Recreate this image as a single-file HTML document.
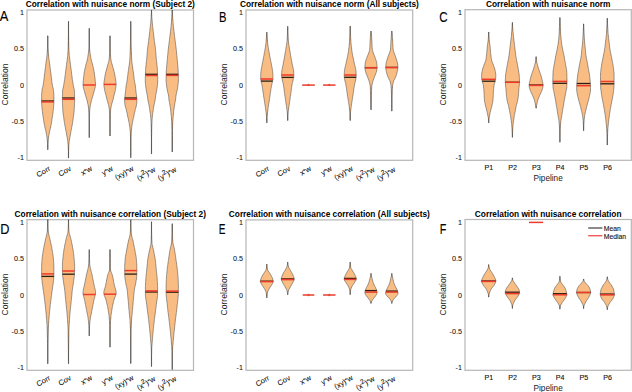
<!DOCTYPE html>
<html><head><meta charset="utf-8"><style>
html,body{margin:0;padding:0;background:#fff;width:632px;height:392px;overflow:hidden}
svg{display:block}
</style></head><body>
<svg width="632" height="392" viewBox="0 0 632 392">
<rect width="632" height="392" fill="#fff"/>
<text x="110.25" y="7.3" font-family='"Liberation Sans", sans-serif' font-weight="bold" font-size="8.3" text-anchor="middle" fill="#000">Correlation with nuisance norm (Subject 2)</text>
<text transform="translate(-0.36,20.7) scale(0.92,1)" font-family='"Liberation Sans", sans-serif' font-size="14" fill="#000" stroke="#000" stroke-width="0.12">A</text>
<text transform="translate(7.90,84.50) rotate(-90)" font-family='"Liberation Sans", sans-serif' font-size="8.6" text-anchor="middle" fill="#1a1a1a">Correlation</text>
<text x="24.00" y="15.10" font-family='"Liberation Sans", sans-serif' font-size="7.2" text-anchor="end" fill="#111" stroke="#111" stroke-width="0.06">1</text>
<text x="24.00" y="51.35" font-family='"Liberation Sans", sans-serif' font-size="7.2" text-anchor="end" fill="#111" stroke="#111" stroke-width="0.06">0.5</text>
<text x="24.00" y="87.60" font-family='"Liberation Sans", sans-serif' font-size="7.2" text-anchor="end" fill="#111" stroke="#111" stroke-width="0.06">0</text>
<text x="24.00" y="123.85" font-family='"Liberation Sans", sans-serif' font-size="7.2" text-anchor="end" fill="#111" stroke="#111" stroke-width="0.06">-0.5</text>
<text x="24.00" y="160.10" font-family='"Liberation Sans", sans-serif' font-size="7.2" text-anchor="end" fill="#111" stroke="#111" stroke-width="0.06">-1</text>
<rect x="27" y="10" width="166.5" height="150.3" fill="none" stroke="#b6b6b6" stroke-width="1.2"/>
<line x1="47.75" y1="35.8" x2="47.75" y2="149.7" stroke="#7a7a7a" stroke-width="0.8"/>
<path d="M47.9 35.8 47.9 37.1 47.9 38.3 47.9 39.6 47.9 40.9 47.9 42.1 47.9 43.4 47.9 44.7 48.0 45.9 48.0 47.2 48.1 48.5 48.1 49.7 48.2 51.0 48.3 52.3 48.4 53.5 48.5 54.8 48.6 56.0 48.8 57.3 48.9 58.6 49.1 59.8 49.3 61.1 49.5 62.4 49.6 63.6 49.8 64.9 50.0 66.2 50.1 67.4 50.3 68.7 50.4 70.0 50.6 71.2 50.7 72.5 50.9 73.8 51.1 75.0 51.2 76.3 51.4 77.6 51.5 78.8 51.7 80.1 51.8 81.4 52.0 82.6 52.2 83.9 52.4 85.2 52.6 86.4 53.0 87.7 53.3 89.0 53.5 90.2 53.6 91.5 53.7 92.8 53.8 94.0 53.9 95.3 53.9 96.5 53.9 97.8 53.9 99.1 53.9 100.3 53.9 101.6 53.9 102.9 53.8 104.1 53.7 105.4 53.6 106.7 53.5 107.9 53.4 109.2 53.2 110.5 53.1 111.7 52.9 113.0 52.8 114.3 52.6 115.5 52.4 116.8 52.2 118.1 52.0 119.3 51.8 120.6 51.6 121.9 51.4 123.1 51.2 124.4 50.9 125.7 50.7 126.9 50.4 128.2 50.1 129.5 49.8 130.7 49.5 132.0 49.3 133.2 49.0 134.5 48.8 135.8 48.6 137.0 48.4 138.3 48.3 139.6 48.2 140.8 48.1 142.1 48.0 143.4 47.9 144.6 47.9 145.9 47.9 147.2 47.9 148.4 47.9 149.7 47.6 149.7 47.6 148.4 47.6 147.2 47.6 145.9 47.6 144.6 47.5 143.4 47.4 142.1 47.3 140.8 47.2 139.6 47.1 138.3 46.9 137.0 46.7 135.8 46.5 134.5 46.2 133.2 46.0 132.0 45.7 130.7 45.4 129.5 45.1 128.2 44.8 126.9 44.6 125.7 44.3 124.4 44.1 123.1 43.9 121.9 43.7 120.6 43.5 119.3 43.3 118.1 43.1 116.8 42.9 115.5 42.7 114.3 42.6 113.0 42.4 111.7 42.3 110.5 42.1 109.2 42.0 107.9 41.9 106.7 41.8 105.4 41.7 104.1 41.6 102.9 41.6 101.6 41.6 100.3 41.6 99.1 41.6 97.8 41.6 96.5 41.6 95.3 41.7 94.0 41.8 92.8 41.9 91.5 42.0 90.2 42.2 89.0 42.5 87.7 42.9 86.4 43.1 85.2 43.3 83.9 43.5 82.6 43.7 81.4 43.8 80.1 44.0 78.8 44.1 77.6 44.3 76.3 44.4 75.0 44.6 73.8 44.8 72.5 44.9 71.2 45.1 70.0 45.2 68.7 45.4 67.4 45.5 66.2 45.7 64.9 45.9 63.6 46.0 62.4 46.2 61.1 46.4 59.8 46.6 58.6 46.7 57.3 46.9 56.0 47.0 54.8 47.1 53.5 47.2 52.3 47.3 51.0 47.4 49.7 47.4 48.5 47.5 47.2 47.5 45.9 47.6 44.7 47.6 43.4 47.6 42.1 47.6 40.9 47.6 39.6 47.6 38.3 47.6 37.1 47.6 35.8Z" fill="#f9bd83" stroke="#3c3c3c" stroke-width="0.5"/>
<line x1="68.5" y1="21.3" x2="68.5" y2="158" stroke="#7a7a7a" stroke-width="0.8"/>
<path d="M68.6 21.3 68.6 22.6 68.6 23.8 68.6 25.1 68.6 26.4 68.6 27.6 68.6 28.9 68.6 30.2 68.6 31.4 68.6 32.7 68.6 34.0 68.6 35.2 68.6 36.5 68.7 37.8 68.7 39.0 68.7 40.3 68.7 41.6 68.8 42.8 68.8 44.1 68.8 45.3 68.8 46.6 68.9 47.9 68.9 49.1 69.0 50.4 69.1 51.7 69.2 52.9 69.2 54.2 69.3 55.5 69.4 56.7 69.6 58.0 69.8 59.3 69.9 60.5 70.1 61.8 70.3 63.1 70.5 64.3 70.6 65.6 70.8 66.9 70.9 68.1 71.1 69.4 71.3 70.7 71.4 71.9 71.6 73.2 71.7 74.5 71.9 75.7 72.1 77.0 72.2 78.3 72.4 79.5 72.6 80.8 72.8 82.1 73.0 83.3 73.2 84.6 73.4 85.9 73.7 87.1 74.0 88.4 74.3 89.6 74.4 90.9 74.4 92.2 74.5 93.4 74.5 94.7 74.6 96.0 74.6 97.2 74.6 98.5 74.6 99.8 74.6 101.0 74.5 102.3 74.5 103.6 74.5 104.8 74.4 106.1 74.3 107.4 74.3 108.6 74.2 109.9 74.1 111.2 74.0 112.4 73.9 113.7 73.7 115.0 73.5 116.2 73.3 117.5 73.1 118.8 73.0 120.0 72.8 121.3 72.6 122.6 72.4 123.8 72.2 125.1 71.9 126.4 71.7 127.6 71.4 128.9 71.2 130.2 71.0 131.4 70.7 132.7 70.5 134.0 70.3 135.2 70.1 136.5 69.8 137.7 69.6 139.0 69.4 140.3 69.2 141.5 69.1 142.8 69.0 144.1 68.9 145.3 68.8 146.6 68.8 147.9 68.7 149.1 68.7 150.4 68.6 151.7 68.6 152.9 68.6 154.2 68.6 155.5 68.6 156.7 68.6 158.0 68.4 158.0 68.4 156.7 68.4 155.5 68.4 154.2 68.4 152.9 68.4 151.7 68.3 150.4 68.3 149.1 68.2 147.9 68.2 146.6 68.1 145.3 68.0 144.1 67.9 142.8 67.8 141.5 67.6 140.3 67.4 139.0 67.2 137.7 66.9 136.5 66.7 135.2 66.5 134.0 66.3 132.7 66.0 131.4 65.8 130.2 65.6 128.9 65.3 127.6 65.1 126.4 64.8 125.1 64.6 123.8 64.4 122.6 64.2 121.3 64.0 120.0 63.9 118.8 63.7 117.5 63.5 116.2 63.3 115.0 63.1 113.7 63.0 112.4 62.9 111.2 62.8 109.9 62.7 108.6 62.7 107.4 62.6 106.1 62.5 104.8 62.5 103.6 62.5 102.3 62.4 101.0 62.4 99.8 62.4 98.5 62.4 97.2 62.4 96.0 62.5 94.7 62.5 93.4 62.6 92.2 62.6 90.9 62.7 89.6 63.0 88.4 63.3 87.1 63.6 85.9 63.8 84.6 64.0 83.3 64.2 82.1 64.4 80.8 64.6 79.5 64.8 78.3 64.9 77.0 65.1 75.7 65.3 74.5 65.4 73.2 65.6 71.9 65.7 70.7 65.9 69.4 66.1 68.1 66.2 66.9 66.4 65.6 66.5 64.3 66.7 63.1 66.9 61.8 67.1 60.5 67.2 59.3 67.4 58.0 67.6 56.7 67.7 55.5 67.8 54.2 67.8 52.9 67.9 51.7 68.0 50.4 68.1 49.1 68.1 47.9 68.2 46.6 68.2 45.3 68.2 44.1 68.2 42.8 68.3 41.6 68.3 40.3 68.3 39.0 68.3 37.8 68.4 36.5 68.4 35.2 68.4 34.0 68.4 32.7 68.4 31.4 68.4 30.2 68.4 28.9 68.4 27.6 68.4 26.4 68.4 25.1 68.4 23.8 68.4 22.6 68.4 21.3Z" fill="#f9bd83" stroke="#3c3c3c" stroke-width="0.5"/>
<line x1="89.25" y1="28.3" x2="89.25" y2="137.6" stroke="#7a7a7a" stroke-width="0.8"/>
<path d="M89.3 28.3 89.3 29.6 89.3 30.8 89.3 32.1 89.3 33.4 89.3 34.7 89.3 35.9 89.3 37.2 89.3 38.5 89.4 39.7 89.4 41.0 89.4 42.3 89.4 43.6 89.5 44.8 89.5 46.1 89.5 47.4 89.6 48.6 89.7 49.9 89.8 51.2 90.0 52.4 90.2 53.7 90.4 55.0 90.6 56.3 90.8 57.5 91.0 58.8 91.3 60.1 91.6 61.3 92.0 62.6 92.4 63.9 92.7 65.2 93.0 66.4 93.3 67.7 93.6 69.0 93.8 70.2 94.1 71.5 94.3 72.8 94.5 74.1 94.6 75.3 94.8 76.6 95.0 77.9 95.1 79.1 95.2 80.4 95.4 81.7 95.4 83.0 95.5 84.2 95.5 85.5 95.3 86.8 95.0 88.0 94.7 89.3 94.3 90.6 94.0 91.8 93.6 93.1 93.3 94.4 92.9 95.7 92.5 96.9 92.1 98.2 91.7 99.5 91.4 100.7 91.1 102.0 90.8 103.3 90.5 104.6 90.3 105.8 90.1 107.1 89.9 108.4 89.8 109.6 89.7 110.9 89.6 112.2 89.6 113.5 89.5 114.7 89.5 116.0 89.5 117.3 89.4 118.5 89.4 119.8 89.4 121.1 89.4 122.3 89.3 123.6 89.3 124.9 89.3 126.2 89.3 127.4 89.3 128.7 89.3 130.0 89.3 131.2 89.3 132.5 89.3 133.8 89.3 135.1 89.3 136.3 89.3 137.6 89.2 137.6 89.2 136.3 89.2 135.1 89.2 133.8 89.2 132.5 89.2 131.2 89.2 130.0 89.2 128.7 89.2 127.4 89.2 126.2 89.2 124.9 89.2 123.6 89.1 122.3 89.1 121.1 89.1 119.8 89.1 118.5 89.0 117.3 89.0 116.0 89.0 114.7 88.9 113.5 88.9 112.2 88.8 110.9 88.7 109.6 88.6 108.4 88.4 107.1 88.2 105.8 88.0 104.6 87.7 103.3 87.4 102.0 87.1 100.7 86.8 99.5 86.4 98.2 86.0 96.9 85.6 95.7 85.2 94.4 84.9 93.1 84.5 91.8 84.2 90.6 83.8 89.3 83.5 88.0 83.2 86.8 83.0 85.5 83.0 84.2 83.1 83.0 83.1 81.7 83.3 80.4 83.4 79.1 83.5 77.9 83.7 76.6 83.9 75.3 84.0 74.1 84.2 72.8 84.4 71.5 84.7 70.2 84.9 69.0 85.2 67.7 85.5 66.4 85.8 65.2 86.1 63.9 86.5 62.6 86.9 61.3 87.2 60.1 87.5 58.8 87.7 57.5 87.9 56.3 88.1 55.0 88.3 53.7 88.5 52.4 88.7 51.2 88.8 49.9 88.9 48.6 89.0 47.4 89.0 46.1 89.0 44.8 89.1 43.6 89.1 42.3 89.1 41.0 89.1 39.7 89.2 38.5 89.2 37.2 89.2 35.9 89.2 34.7 89.2 33.4 89.2 32.1 89.2 30.8 89.2 29.6 89.2 28.3Z" fill="#f9bd83" stroke="#3c3c3c" stroke-width="0.5"/>
<line x1="110" y1="35.8" x2="110" y2="136" stroke="#7a7a7a" stroke-width="0.8"/>
<path d="M110.1 35.8 110.1 37.1 110.1 38.3 110.1 39.6 110.1 40.9 110.1 42.1 110.1 43.4 110.1 44.7 110.1 45.9 110.2 47.2 110.2 48.5 110.2 49.8 110.3 51.0 110.3 52.3 110.4 53.6 110.5 54.8 110.6 56.1 110.7 57.4 110.8 58.6 111.0 59.9 111.2 61.2 111.5 62.4 111.9 63.7 112.3 65.0 112.6 66.2 113.0 67.5 113.3 68.8 113.7 70.0 114.0 71.3 114.3 72.6 114.6 73.9 114.9 75.1 115.1 76.4 115.3 77.7 115.5 78.9 115.7 80.2 115.9 81.5 116.0 82.7 116.1 84.0 116.1 85.3 115.9 86.5 115.8 87.8 115.5 89.1 115.3 90.3 115.1 91.6 114.7 92.9 114.4 94.1 114.0 95.4 113.7 96.7 113.4 97.9 113.1 99.2 112.8 100.5 112.4 101.8 112.0 103.0 111.7 104.3 111.4 105.6 111.1 106.8 110.9 108.1 110.7 109.4 110.6 110.6 110.5 111.9 110.4 113.2 110.3 114.4 110.3 115.7 110.2 117.0 110.2 118.2 110.2 119.5 110.2 120.8 110.1 122.0 110.1 123.3 110.1 124.6 110.1 125.9 110.1 127.1 110.1 128.4 110.1 129.7 110.1 130.9 110.1 132.2 110.1 133.5 110.1 134.7 110.1 136.0 109.9 136.0 109.9 134.7 109.9 133.5 109.9 132.2 109.9 130.9 109.9 129.7 109.9 128.4 109.9 127.1 109.9 125.9 109.9 124.6 109.9 123.3 109.9 122.0 109.8 120.8 109.8 119.5 109.8 118.2 109.8 117.0 109.7 115.7 109.7 114.4 109.6 113.2 109.5 111.9 109.4 110.6 109.3 109.4 109.1 108.1 108.9 106.8 108.6 105.6 108.3 104.3 108.0 103.0 107.6 101.8 107.2 100.5 106.9 99.2 106.6 97.9 106.3 96.7 106.0 95.4 105.6 94.1 105.3 92.9 104.9 91.6 104.7 90.3 104.5 89.1 104.2 87.8 104.1 86.5 103.9 85.3 103.9 84.0 104.0 82.7 104.1 81.5 104.3 80.2 104.5 78.9 104.7 77.7 104.9 76.4 105.1 75.1 105.4 73.9 105.7 72.6 106.0 71.3 106.3 70.0 106.7 68.8 107.0 67.5 107.4 66.2 107.7 65.0 108.1 63.7 108.5 62.4 108.8 61.2 109.0 59.9 109.2 58.6 109.3 57.4 109.4 56.1 109.5 54.8 109.6 53.6 109.7 52.3 109.7 51.0 109.8 49.8 109.8 48.5 109.8 47.2 109.9 45.9 109.9 44.7 109.9 43.4 109.9 42.1 109.9 40.9 109.9 39.6 109.9 38.3 109.9 37.1 109.9 35.8Z" fill="#f9bd83" stroke="#3c3c3c" stroke-width="0.5"/>
<line x1="130.75" y1="21.3" x2="130.75" y2="157.7" stroke="#7a7a7a" stroke-width="0.8"/>
<path d="M130.8 21.3 130.8 22.6 130.8 23.8 130.8 25.1 130.8 26.4 130.8 27.6 130.8 28.9 130.8 30.1 130.8 31.4 130.8 32.7 130.8 33.9 130.9 35.2 130.9 36.5 130.9 37.7 130.9 39.0 131.0 40.2 131.0 41.5 131.0 42.8 131.0 44.0 131.1 45.3 131.1 46.6 131.2 47.8 131.2 49.1 131.3 50.3 131.4 51.6 131.4 52.9 131.4 54.1 131.5 55.4 131.5 56.7 131.6 57.9 131.7 59.2 131.7 60.5 131.9 61.7 132.0 63.0 132.2 64.2 132.4 65.5 132.6 66.8 132.8 68.0 132.9 69.3 133.1 70.6 133.3 71.8 133.5 73.1 133.6 74.3 133.8 75.6 133.9 76.9 134.1 78.1 134.2 79.4 134.4 80.7 134.6 81.9 134.9 83.2 135.2 84.4 135.4 85.7 135.5 87.0 135.6 88.2 135.8 89.5 135.9 90.8 136.0 92.0 136.2 93.3 136.4 94.6 136.5 95.8 136.7 97.1 136.8 98.3 136.9 99.6 136.9 100.9 136.8 102.1 136.7 103.4 136.5 104.7 136.3 105.9 136.0 107.2 135.6 108.4 135.2 109.7 135.0 111.0 134.7 112.2 134.4 113.5 134.1 114.8 133.9 116.0 133.6 117.3 133.3 118.5 133.0 119.8 132.8 121.1 132.5 122.3 132.3 123.6 132.1 124.9 131.9 126.1 131.7 127.4 131.6 128.7 131.4 129.9 131.3 131.2 131.2 132.4 131.1 133.7 131.1 135.0 131.0 136.2 131.0 137.5 131.0 138.8 131.0 140.0 130.9 141.3 130.9 142.5 130.9 143.8 130.9 145.1 130.8 146.3 130.8 147.6 130.8 148.9 130.8 150.1 130.8 151.4 130.8 152.6 130.8 153.9 130.8 155.2 130.8 156.4 130.8 157.7 130.7 157.7 130.7 156.4 130.7 155.2 130.7 153.9 130.7 152.6 130.7 151.4 130.7 150.1 130.7 148.9 130.7 147.6 130.7 146.3 130.6 145.1 130.6 143.8 130.6 142.5 130.6 141.3 130.5 140.0 130.5 138.8 130.5 137.5 130.5 136.2 130.4 135.0 130.4 133.7 130.3 132.4 130.2 131.2 130.1 129.9 129.9 128.7 129.8 127.4 129.6 126.1 129.4 124.9 129.2 123.6 129.0 122.3 128.7 121.1 128.5 119.8 128.2 118.5 127.9 117.3 127.6 116.0 127.4 114.8 127.1 113.5 126.8 112.2 126.5 111.0 126.3 109.7 125.9 108.4 125.5 107.2 125.2 105.9 125.0 104.7 124.8 103.4 124.7 102.1 124.6 100.9 124.6 99.6 124.7 98.3 124.8 97.1 125.0 95.8 125.1 94.6 125.3 93.3 125.5 92.0 125.6 90.8 125.7 89.5 125.9 88.2 126.0 87.0 126.1 85.7 126.3 84.4 126.6 83.2 126.9 81.9 127.1 80.7 127.3 79.4 127.4 78.1 127.6 76.9 127.7 75.6 127.9 74.3 128.0 73.1 128.2 71.8 128.4 70.6 128.6 69.3 128.7 68.0 128.9 66.8 129.1 65.5 129.3 64.2 129.5 63.0 129.6 61.7 129.8 60.5 129.8 59.2 129.9 57.9 130.0 56.7 130.0 55.4 130.1 54.1 130.1 52.9 130.1 51.6 130.2 50.3 130.3 49.1 130.3 47.8 130.4 46.6 130.4 45.3 130.5 44.0 130.5 42.8 130.5 41.5 130.5 40.2 130.6 39.0 130.6 37.7 130.6 36.5 130.6 35.2 130.7 33.9 130.7 32.7 130.7 31.4 130.7 30.1 130.7 28.9 130.7 27.6 130.7 26.4 130.7 25.1 130.7 23.8 130.7 22.6 130.7 21.3Z" fill="#f9bd83" stroke="#3c3c3c" stroke-width="0.5"/>
<line x1="151.5" y1="10" x2="151.5" y2="153.9" stroke="#7a7a7a" stroke-width="0.8"/>
<path d="M151.6 10.0 151.6 11.3 151.6 12.5 151.7 13.8 151.8 15.0 151.8 16.3 151.9 17.6 152.0 18.8 152.1 20.1 152.2 21.4 152.3 22.6 152.4 23.9 152.6 25.1 152.7 26.4 152.8 27.7 153.0 28.9 153.1 30.2 153.3 31.5 153.4 32.7 153.6 34.0 153.7 35.2 153.9 36.5 154.0 37.8 154.2 39.0 154.3 40.3 154.5 41.6 154.7 42.8 154.8 44.1 155.0 45.3 155.2 46.6 155.3 47.9 155.5 49.1 155.6 50.4 155.7 51.7 155.8 52.9 155.9 54.2 156.0 55.4 156.1 56.7 156.2 58.0 156.3 59.2 156.5 60.5 156.6 61.8 156.8 63.0 156.9 64.3 157.0 65.5 157.2 66.8 157.3 68.1 157.4 69.3 157.4 70.6 157.5 71.9 157.5 73.1 157.6 74.4 157.6 75.6 157.7 76.9 157.7 78.2 157.7 79.4 157.7 80.7 157.7 82.0 157.6 83.2 157.5 84.5 157.4 85.7 157.2 87.0 157.0 88.3 156.8 89.5 156.6 90.8 156.4 92.0 156.1 93.3 155.9 94.6 155.7 95.8 155.5 97.1 155.3 98.4 155.2 99.6 154.9 100.9 154.7 102.1 154.4 103.4 154.1 104.7 153.9 105.9 153.6 107.2 153.4 108.5 153.3 109.7 153.1 111.0 152.9 112.2 152.7 113.5 152.5 114.8 152.4 116.0 152.3 117.3 152.2 118.6 152.1 119.8 152.0 121.1 152.0 122.3 151.9 123.6 151.9 124.9 151.8 126.1 151.8 127.4 151.8 128.7 151.7 129.9 151.7 131.2 151.7 132.4 151.7 133.7 151.7 135.0 151.6 136.2 151.6 137.5 151.6 138.8 151.6 140.0 151.6 141.3 151.6 142.5 151.6 143.8 151.6 145.1 151.6 146.3 151.6 147.6 151.6 148.9 151.6 150.1 151.6 151.4 151.6 152.6 151.6 153.9 151.4 153.9 151.4 152.6 151.4 151.4 151.4 150.1 151.4 148.9 151.4 147.6 151.4 146.3 151.4 145.1 151.4 143.8 151.4 142.5 151.4 141.3 151.4 140.0 151.4 138.8 151.4 137.5 151.4 136.2 151.3 135.0 151.3 133.7 151.3 132.4 151.3 131.2 151.3 129.9 151.2 128.7 151.2 127.4 151.2 126.1 151.1 124.9 151.1 123.6 151.0 122.3 151.0 121.1 150.9 119.8 150.8 118.6 150.7 117.3 150.6 116.0 150.5 114.8 150.3 113.5 150.1 112.2 149.9 111.0 149.7 109.7 149.6 108.5 149.4 107.2 149.1 105.9 148.9 104.7 148.6 103.4 148.3 102.1 148.1 100.9 147.8 99.6 147.7 98.4 147.5 97.1 147.3 95.8 147.1 94.6 146.9 93.3 146.6 92.0 146.4 90.8 146.2 89.5 146.0 88.3 145.8 87.0 145.6 85.7 145.5 84.5 145.4 83.2 145.3 82.0 145.3 80.7 145.3 79.4 145.3 78.2 145.3 76.9 145.4 75.6 145.4 74.4 145.5 73.1 145.5 71.9 145.6 70.6 145.6 69.3 145.7 68.1 145.8 66.8 146.0 65.5 146.1 64.3 146.2 63.0 146.4 61.8 146.5 60.5 146.7 59.2 146.8 58.0 146.9 56.7 147.0 55.4 147.1 54.2 147.2 52.9 147.3 51.7 147.4 50.4 147.5 49.1 147.7 47.9 147.8 46.6 148.0 45.3 148.2 44.1 148.3 42.8 148.5 41.6 148.7 40.3 148.8 39.0 149.0 37.8 149.1 36.5 149.3 35.2 149.4 34.0 149.6 32.7 149.7 31.5 149.9 30.2 150.0 28.9 150.2 27.7 150.3 26.4 150.4 25.1 150.6 23.9 150.7 22.6 150.8 21.4 150.9 20.1 151.0 18.8 151.1 17.6 151.2 16.3 151.2 15.0 151.3 13.8 151.4 12.5 151.4 11.3 151.4 10.0Z" fill="#f9bd83" stroke="#3c3c3c" stroke-width="0.5"/>
<line x1="172.25" y1="10" x2="172.25" y2="152" stroke="#7a7a7a" stroke-width="0.8"/>
<path d="M172.3 10.0 172.3 11.3 172.4 12.5 172.4 13.8 172.5 15.1 172.6 16.3 172.7 17.6 172.8 18.9 172.9 20.1 173.0 21.4 173.1 22.7 173.2 23.9 173.3 25.2 173.5 26.5 173.6 27.8 173.7 29.0 173.9 30.3 174.0 31.6 174.2 32.8 174.3 34.1 174.5 35.4 174.6 36.6 174.8 37.9 175.0 39.2 175.1 40.4 175.3 41.7 175.4 43.0 175.6 44.2 175.8 45.5 175.9 46.8 176.1 48.0 176.2 49.3 176.4 50.6 176.5 51.8 176.6 53.1 176.7 54.4 176.9 55.6 177.0 56.9 177.1 58.2 177.2 59.4 177.3 60.7 177.4 62.0 177.6 63.2 177.7 64.5 177.8 65.8 177.9 67.1 178.0 68.3 178.1 69.6 178.2 70.9 178.2 72.1 178.3 73.4 178.3 74.7 178.4 75.9 178.4 77.2 178.4 78.5 178.4 79.7 178.4 81.0 178.3 82.3 178.2 83.5 178.0 84.8 177.9 86.1 177.7 87.3 177.5 88.6 177.2 89.9 177.0 91.1 176.7 92.4 176.4 93.7 176.1 94.9 175.9 96.2 175.8 97.5 175.7 98.8 175.5 100.0 175.3 101.3 175.0 102.6 174.8 103.8 174.6 105.1 174.4 106.4 174.2 107.6 174.0 108.9 173.8 110.2 173.7 111.4 173.6 112.7 173.5 114.0 173.3 115.2 173.2 116.5 173.1 117.8 173.0 119.0 172.9 120.3 172.8 121.6 172.7 122.8 172.7 124.1 172.6 125.4 172.6 126.6 172.6 127.9 172.5 129.2 172.5 130.4 172.5 131.7 172.4 133.0 172.4 134.2 172.4 135.5 172.4 136.8 172.4 138.1 172.3 139.3 172.3 140.6 172.3 141.9 172.3 143.1 172.3 144.4 172.3 145.7 172.3 146.9 172.3 148.2 172.3 149.5 172.3 150.7 172.3 152.0 172.2 152.0 172.2 150.7 172.2 149.5 172.2 148.2 172.2 146.9 172.2 145.7 172.2 144.4 172.2 143.1 172.2 141.9 172.2 140.6 172.2 139.3 172.1 138.1 172.1 136.8 172.1 135.5 172.1 134.2 172.1 133.0 172.0 131.7 172.0 130.4 172.0 129.2 171.9 127.9 171.9 126.6 171.9 125.4 171.8 124.1 171.8 122.8 171.7 121.6 171.6 120.3 171.5 119.0 171.4 117.8 171.3 116.5 171.2 115.2 171.0 114.0 170.9 112.7 170.8 111.4 170.7 110.2 170.5 108.9 170.3 107.6 170.1 106.4 169.9 105.1 169.7 103.8 169.5 102.6 169.2 101.3 169.0 100.0 168.8 98.8 168.7 97.5 168.6 96.2 168.4 94.9 168.1 93.7 167.8 92.4 167.5 91.1 167.3 89.9 167.0 88.6 166.8 87.3 166.6 86.1 166.5 84.8 166.3 83.5 166.2 82.3 166.1 81.0 166.1 79.7 166.1 78.5 166.1 77.2 166.1 75.9 166.2 74.7 166.2 73.4 166.3 72.1 166.3 70.9 166.4 69.6 166.5 68.3 166.6 67.1 166.7 65.8 166.8 64.5 166.9 63.2 167.1 62.0 167.2 60.7 167.3 59.4 167.4 58.2 167.5 56.9 167.6 55.6 167.8 54.4 167.9 53.1 168.0 51.8 168.1 50.6 168.3 49.3 168.4 48.0 168.6 46.8 168.7 45.5 168.9 44.2 169.1 43.0 169.2 41.7 169.4 40.4 169.5 39.2 169.7 37.9 169.9 36.6 170.0 35.4 170.2 34.1 170.3 32.8 170.5 31.6 170.6 30.3 170.8 29.0 170.9 27.8 171.0 26.5 171.2 25.2 171.3 23.9 171.4 22.7 171.5 21.4 171.6 20.1 171.7 18.9 171.8 17.6 171.9 16.3 172.0 15.1 172.1 13.8 172.1 12.5 172.2 11.3 172.2 10.0Z" fill="#f9bd83" stroke="#3c3c3c" stroke-width="0.5"/>
<line x1="41.55" y1="101.0" x2="53.95" y2="101.0" stroke="#2a1d14" stroke-width="1.3"/>
<line x1="41.56" y1="101.9" x2="53.94" y2="101.9" stroke="#ee3a2a" stroke-width="1.5"/>
<line x1="62.40" y1="98.0" x2="74.60" y2="98.0" stroke="#2a1d14" stroke-width="1.3"/>
<line x1="62.41" y1="99.3" x2="74.59" y2="99.3" stroke="#ee3a2a" stroke-width="1.5"/>
<line x1="83.00" y1="85.0" x2="95.50" y2="85.0" stroke="#ee3a2a" stroke-width="1.5"/>
<line x1="103.90" y1="84.4" x2="116.10" y2="84.4" stroke="#ee3a2a" stroke-width="1.5"/>
<line x1="124.70" y1="98.0" x2="136.80" y2="98.0" stroke="#2a1d14" stroke-width="1.3"/>
<line x1="124.57" y1="99.3" x2="136.93" y2="99.3" stroke="#ee3a2a" stroke-width="1.5"/>
<line x1="145.42" y1="74.3" x2="157.58" y2="74.3" stroke="#2a1d14" stroke-width="1.3"/>
<line x1="145.38" y1="75.5" x2="157.62" y2="75.5" stroke="#ee3a2a" stroke-width="1.5"/>
<line x1="166.17" y1="74.3" x2="178.33" y2="74.3" stroke="#2a1d14" stroke-width="1.3"/>
<line x1="166.14" y1="75.4" x2="178.36" y2="75.4" stroke="#ee3a2a" stroke-width="1.5"/>
<text transform="translate(51.01,170.10) rotate(-30)" font-family='"Liberation Sans", sans-serif' font-size="7.5" text-anchor="end" fill="#111" stroke="#111" stroke-width="0.08">Corr</text>
<text transform="translate(71.83,170.10) rotate(-30)" font-family='"Liberation Sans", sans-serif' font-size="7.5" text-anchor="end" fill="#111" stroke="#111" stroke-width="0.08">Cov</text>
<text transform="translate(92.64,170.10) rotate(-30)" font-family='"Liberation Sans", sans-serif' font-size="7.5" text-anchor="end" fill="#111" stroke="#111" stroke-width="0.08">x<tspan font-size="5.6" dy="-1.0">*</tspan><tspan dy="1.0">w</tspan></text>
<text transform="translate(113.45,170.10) rotate(-30)" font-family='"Liberation Sans", sans-serif' font-size="7.5" text-anchor="end" fill="#111" stroke="#111" stroke-width="0.08">y<tspan font-size="5.6" dy="-1.0">*</tspan><tspan dy="1.0">w</tspan></text>
<text transform="translate(134.26,170.10) rotate(-30)" font-family='"Liberation Sans", sans-serif' font-size="7.5" text-anchor="end" fill="#111" stroke="#111" stroke-width="0.08">(xy)<tspan font-size="5.6" dy="-1.0">*</tspan><tspan dy="1.0">w</tspan></text>
<text transform="translate(156.07,171.10) rotate(-30)" font-family='"Liberation Sans", sans-serif' font-size="7.5" text-anchor="end" fill="#111" stroke="#111" stroke-width="0.08">(x<tspan dy="-3.1" font-size="6.6">2</tspan><tspan dy="3.1">)<tspan font-size="5.6" dy="-1.0">*</tspan><tspan dy="1.0">w</tspan></tspan></text>
<text transform="translate(176.89,171.10) rotate(-30)" font-family='"Liberation Sans", sans-serif' font-size="7.5" text-anchor="end" fill="#111" stroke="#111" stroke-width="0.08">(y<tspan dy="-3.1" font-size="6.6">2</tspan><tspan dy="3.1">)<tspan font-size="5.6" dy="-1.0">*</tspan><tspan dy="1.0">w</tspan></tspan></text>
<text x="329.35" y="7.3" font-family='"Liberation Sans", sans-serif' font-weight="bold" font-size="8.3" text-anchor="middle" fill="#000">Correlation with nuisance norm (All subjects)</text>
<text transform="translate(219.00,21.8) scale(0.8,1)" font-family='"Liberation Sans", sans-serif' font-size="14" fill="#000" stroke="#000" stroke-width="0.12">B</text>
<text transform="translate(226.90,84.50) rotate(-90)" font-family='"Liberation Sans", sans-serif' font-size="8.6" text-anchor="middle" fill="#1a1a1a">Correlation</text>
<text x="243.00" y="15.10" font-family='"Liberation Sans", sans-serif' font-size="7.2" text-anchor="end" fill="#111" stroke="#111" stroke-width="0.06">1</text>
<text x="243.00" y="51.35" font-family='"Liberation Sans", sans-serif' font-size="7.2" text-anchor="end" fill="#111" stroke="#111" stroke-width="0.06">0.5</text>
<text x="243.00" y="87.60" font-family='"Liberation Sans", sans-serif' font-size="7.2" text-anchor="end" fill="#111" stroke="#111" stroke-width="0.06">0</text>
<text x="243.00" y="123.85" font-family='"Liberation Sans", sans-serif' font-size="7.2" text-anchor="end" fill="#111" stroke="#111" stroke-width="0.06">-0.5</text>
<text x="243.00" y="160.10" font-family='"Liberation Sans", sans-serif' font-size="7.2" text-anchor="end" fill="#111" stroke="#111" stroke-width="0.06">-1</text>
<rect x="246" y="10" width="166.7" height="150.3" fill="none" stroke="#b6b6b6" stroke-width="1.2"/>
<line x1="266.8" y1="32.2" x2="266.8" y2="122.8" stroke="#7a7a7a" stroke-width="0.8"/>
<path d="M266.9 32.2 266.9 33.5 267.0 34.8 267.1 36.0 267.2 37.3 267.3 38.6 267.4 39.9 267.5 41.1 267.6 42.4 267.7 43.7 267.9 45.0 268.1 46.2 268.3 47.5 268.5 48.8 268.7 50.1 268.9 51.3 269.2 52.6 269.4 53.9 269.6 55.2 269.9 56.4 270.1 57.7 270.4 59.0 270.6 60.3 270.8 61.5 271.1 62.8 271.4 64.1 271.6 65.4 271.8 66.7 272.1 67.9 272.3 69.2 272.5 70.5 272.7 71.8 272.8 73.0 272.9 74.3 272.9 75.6 272.9 76.9 272.9 78.1 272.9 79.4 272.7 80.7 272.4 82.0 272.1 83.2 271.8 84.5 271.5 85.8 271.3 87.1 271.1 88.3 270.9 89.6 270.7 90.9 270.5 92.2 270.3 93.5 270.1 94.7 270.0 96.0 269.8 97.3 269.6 98.6 269.4 99.8 269.2 101.1 269.0 102.4 268.8 103.7 268.6 104.9 268.4 106.2 268.2 107.5 268.0 108.8 267.9 110.0 267.7 111.3 267.5 112.6 267.4 113.9 267.2 115.1 267.1 116.4 267.0 117.7 266.9 119.0 266.9 120.2 266.9 121.5 266.9 122.8 266.7 122.8 266.7 121.5 266.7 120.2 266.7 119.0 266.6 117.7 266.5 116.4 266.4 115.1 266.2 113.9 266.1 112.6 265.9 111.3 265.7 110.0 265.6 108.8 265.4 107.5 265.2 106.2 265.0 104.9 264.8 103.7 264.6 102.4 264.4 101.1 264.2 99.8 264.0 98.6 263.8 97.3 263.6 96.0 263.5 94.7 263.3 93.5 263.1 92.2 262.9 90.9 262.7 89.6 262.5 88.3 262.3 87.1 262.1 85.8 261.8 84.5 261.5 83.2 261.2 82.0 260.9 80.7 260.7 79.4 260.7 78.1 260.7 76.9 260.7 75.6 260.7 74.3 260.8 73.0 260.9 71.8 261.1 70.5 261.3 69.2 261.5 67.9 261.8 66.7 262.0 65.4 262.2 64.1 262.5 62.8 262.8 61.5 263.0 60.3 263.2 59.0 263.5 57.7 263.7 56.4 264.0 55.2 264.2 53.9 264.4 52.6 264.7 51.3 264.9 50.1 265.1 48.8 265.3 47.5 265.5 46.2 265.7 45.0 265.9 43.7 266.0 42.4 266.1 41.1 266.2 39.9 266.3 38.6 266.4 37.3 266.5 36.0 266.6 34.8 266.7 33.5 266.7 32.2Z" fill="#f9bd83" stroke="#3c3c3c" stroke-width="0.5"/>
<line x1="287.7" y1="26.4" x2="287.7" y2="120.5" stroke="#7a7a7a" stroke-width="0.8"/>
<path d="M287.8 26.4 287.8 27.7 287.8 28.9 287.8 30.2 287.9 31.5 287.9 32.8 288.0 34.0 288.1 35.3 288.1 36.6 288.2 37.8 288.2 39.1 288.3 40.4 288.5 41.7 288.6 42.9 288.8 44.2 289.0 45.5 289.2 46.7 289.4 48.0 289.6 49.3 289.8 50.6 290.0 51.8 290.3 53.1 290.5 54.4 290.7 55.6 290.9 56.9 291.1 58.2 291.4 59.5 291.6 60.7 291.8 62.0 292.1 63.3 292.3 64.5 292.6 65.8 292.9 67.1 293.2 68.4 293.4 69.6 293.6 70.9 293.7 72.2 293.8 73.4 293.8 74.7 293.8 76.0 293.7 77.3 293.4 78.5 293.2 79.8 292.9 81.1 292.6 82.4 292.2 83.6 292.0 84.9 291.8 86.2 291.6 87.4 291.4 88.7 291.3 90.0 291.1 91.3 291.0 92.5 290.8 93.8 290.6 95.1 290.4 96.3 290.2 97.6 290.0 98.9 289.9 100.2 289.7 101.4 289.5 102.7 289.3 104.0 289.1 105.2 288.9 106.5 288.8 107.8 288.6 109.1 288.4 110.3 288.2 111.6 288.1 112.9 288.0 114.1 287.9 115.4 287.8 116.7 287.8 118.0 287.8 119.2 287.8 120.5 287.6 120.5 287.6 119.2 287.6 118.0 287.6 116.7 287.5 115.4 287.4 114.1 287.3 112.9 287.2 111.6 287.0 110.3 286.8 109.1 286.6 107.8 286.5 106.5 286.3 105.2 286.1 104.0 285.9 102.7 285.7 101.4 285.5 100.2 285.4 98.9 285.2 97.6 285.0 96.3 284.8 95.1 284.6 93.8 284.4 92.5 284.3 91.3 284.1 90.0 284.0 88.7 283.8 87.4 283.6 86.2 283.4 84.9 283.2 83.6 282.8 82.4 282.5 81.1 282.2 79.8 282.0 78.5 281.7 77.3 281.6 76.0 281.6 74.7 281.6 73.4 281.7 72.2 281.8 70.9 282.0 69.6 282.2 68.4 282.5 67.1 282.8 65.8 283.1 64.5 283.3 63.3 283.6 62.0 283.8 60.7 284.0 59.5 284.3 58.2 284.5 56.9 284.7 55.6 284.9 54.4 285.1 53.1 285.4 51.8 285.6 50.6 285.8 49.3 286.0 48.0 286.2 46.7 286.4 45.5 286.6 44.2 286.8 42.9 286.9 41.7 287.1 40.4 287.2 39.1 287.2 37.8 287.3 36.6 287.3 35.3 287.4 34.0 287.5 32.8 287.5 31.5 287.6 30.2 287.6 28.9 287.6 27.7 287.6 26.4Z" fill="#f9bd83" stroke="#3c3c3c" stroke-width="0.5"/>
<path d="M308.6 84.0 309.0 84.4 309.3 84.8 309.3 85.2 309.0 85.6 308.6 86.0 308.4 86.0 308.0 85.6 307.7 85.2 307.7 84.8 308.0 84.4 308.4 84.0Z" fill="#f9bd83" stroke="#3c3c3c" stroke-width="0.5"/>
<path d="M329.4 84.0 329.8 84.4 330.1 84.8 330.1 85.2 329.8 85.6 329.4 86.0 329.2 86.0 328.8 85.6 328.5 85.2 328.5 84.8 328.8 84.4 329.2 84.0Z" fill="#f9bd83" stroke="#3c3c3c" stroke-width="0.5"/>
<line x1="350.2" y1="26.1" x2="350.2" y2="120.5" stroke="#7a7a7a" stroke-width="0.8"/>
<path d="M350.3 26.1 350.3 27.4 350.3 28.7 350.3 29.9 350.4 31.2 350.4 32.5 350.5 33.8 350.5 35.0 350.6 36.3 350.7 37.6 350.8 38.9 350.8 40.1 350.9 41.4 351.0 42.7 351.1 44.0 351.2 45.2 351.4 46.5 351.5 47.8 351.7 49.1 351.8 50.3 352.0 51.6 352.2 52.9 352.4 54.2 352.7 55.4 352.9 56.7 353.2 58.0 353.5 59.3 353.8 60.5 354.0 61.8 354.3 63.1 354.6 64.4 354.9 65.6 355.2 66.9 355.5 68.2 355.8 69.5 355.9 70.7 356.1 72.0 356.1 73.3 356.2 74.6 356.2 75.9 356.1 77.1 356.0 78.4 355.7 79.7 355.4 81.0 355.1 82.2 354.8 83.5 354.5 84.8 354.3 86.1 354.1 87.3 353.9 88.6 353.7 89.9 353.6 91.2 353.4 92.4 353.2 93.7 353.0 95.0 352.8 96.3 352.6 97.5 352.4 98.8 352.2 100.1 352.0 101.4 351.8 102.6 351.6 103.9 351.4 105.2 351.2 106.5 351.1 107.7 350.9 109.0 350.8 110.3 350.6 111.6 350.5 112.8 350.4 114.1 350.4 115.4 350.3 116.7 350.3 117.9 350.3 119.2 350.3 120.5 350.1 120.5 350.1 119.2 350.1 117.9 350.1 116.7 350.0 115.4 350.0 114.1 349.9 112.8 349.8 111.6 349.6 110.3 349.5 109.0 349.3 107.7 349.2 106.5 349.0 105.2 348.8 103.9 348.6 102.6 348.4 101.4 348.2 100.1 348.0 98.8 347.8 97.5 347.6 96.3 347.4 95.0 347.2 93.7 347.0 92.4 346.8 91.2 346.7 89.9 346.5 88.6 346.3 87.3 346.1 86.1 345.9 84.8 345.6 83.5 345.3 82.2 345.0 81.0 344.7 79.7 344.4 78.4 344.3 77.1 344.2 75.9 344.2 74.6 344.3 73.3 344.3 72.0 344.5 70.7 344.6 69.5 344.9 68.2 345.2 66.9 345.5 65.6 345.8 64.4 346.1 63.1 346.4 61.8 346.6 60.5 346.9 59.3 347.2 58.0 347.5 56.7 347.7 55.4 348.0 54.2 348.2 52.9 348.4 51.6 348.6 50.3 348.7 49.1 348.9 47.8 349.0 46.5 349.2 45.2 349.3 44.0 349.4 42.7 349.5 41.4 349.6 40.1 349.6 38.9 349.7 37.6 349.8 36.3 349.9 35.0 349.9 33.8 350.0 32.5 350.0 31.2 350.1 29.9 350.1 28.7 350.1 27.4 350.1 26.1Z" fill="#f9bd83" stroke="#3c3c3c" stroke-width="0.5"/>
<line x1="371" y1="31.1" x2="371" y2="109.8" stroke="#7a7a7a" stroke-width="0.8"/>
<path d="M371.1 31.1 371.2 32.4 371.4 33.7 371.5 35.0 371.6 36.3 371.7 37.6 371.7 38.8 371.8 40.1 371.9 41.4 372.0 42.7 372.0 44.0 372.1 45.3 372.1 46.6 372.2 47.9 372.3 49.2 372.5 50.5 372.9 51.7 373.3 53.0 373.8 54.3 374.4 55.6 374.9 56.9 375.3 58.2 375.8 59.5 376.2 60.8 376.6 62.1 376.8 63.4 376.9 64.6 377.0 65.9 377.1 67.2 377.1 68.5 376.9 69.8 376.6 71.1 376.2 72.4 375.8 73.7 375.2 75.0 374.7 76.3 374.3 77.5 373.8 78.8 373.3 80.1 372.8 81.4 372.5 82.7 372.2 84.0 371.9 85.3 371.8 86.6 371.7 87.9 371.6 89.2 371.6 90.4 371.5 91.7 371.5 93.0 371.4 94.3 371.4 95.6 371.4 96.9 371.3 98.2 371.3 99.5 371.3 100.8 371.2 102.1 371.2 103.3 371.2 104.6 371.1 105.9 371.1 107.2 371.1 108.5 371.1 109.8 370.9 109.8 370.9 108.5 370.9 107.2 370.9 105.9 370.8 104.6 370.8 103.3 370.8 102.1 370.7 100.8 370.7 99.5 370.7 98.2 370.6 96.9 370.6 95.6 370.6 94.3 370.5 93.0 370.5 91.7 370.4 90.4 370.4 89.2 370.3 87.9 370.2 86.6 370.1 85.3 369.8 84.0 369.5 82.7 369.2 81.4 368.7 80.1 368.2 78.8 367.7 77.5 367.3 76.3 366.8 75.0 366.2 73.7 365.8 72.4 365.4 71.1 365.1 69.8 364.9 68.5 364.9 67.2 365.0 65.9 365.1 64.6 365.2 63.4 365.4 62.1 365.8 60.8 366.2 59.5 366.7 58.2 367.1 56.9 367.6 55.6 368.2 54.3 368.7 53.0 369.1 51.7 369.5 50.5 369.7 49.2 369.8 47.9 369.9 46.6 369.9 45.3 370.0 44.0 370.0 42.7 370.1 41.4 370.2 40.1 370.3 38.8 370.3 37.6 370.4 36.3 370.5 35.0 370.6 33.7 370.8 32.4 370.9 31.1Z" fill="#f9bd83" stroke="#3c3c3c" stroke-width="0.5"/>
<line x1="391.8" y1="31.1" x2="391.8" y2="111.1" stroke="#7a7a7a" stroke-width="0.8"/>
<path d="M391.9 31.1 392.0 32.4 392.2 33.6 392.3 34.9 392.3 36.2 392.4 37.4 392.5 38.7 392.6 40.0 392.7 41.3 392.7 42.5 392.8 43.8 392.9 45.1 393.0 46.3 393.0 47.6 393.1 48.9 393.3 50.1 393.6 51.4 394.1 52.7 394.5 54.0 395.0 55.2 395.5 56.5 395.9 57.8 396.3 59.0 396.7 60.3 397.1 61.6 397.4 62.8 397.6 64.1 397.8 65.4 397.9 66.7 397.9 67.9 397.7 69.2 397.5 70.5 397.2 71.7 396.9 73.0 396.6 74.3 396.2 75.5 395.7 76.8 395.1 78.1 394.5 79.4 393.8 80.6 393.4 81.9 393.1 83.2 392.8 84.4 392.6 85.7 392.5 87.0 392.4 88.2 392.3 89.5 392.2 90.8 392.2 92.1 392.2 93.3 392.1 94.6 392.1 95.9 392.0 97.1 392.0 98.4 392.0 99.7 391.9 100.9 391.9 102.2 391.9 103.5 391.9 104.8 391.9 106.0 391.9 107.3 391.9 108.6 391.9 109.8 391.9 111.1 391.7 111.1 391.7 109.8 391.7 108.6 391.7 107.3 391.7 106.0 391.7 104.8 391.7 103.5 391.7 102.2 391.7 100.9 391.6 99.7 391.6 98.4 391.6 97.1 391.5 95.9 391.5 94.6 391.4 93.3 391.4 92.1 391.4 90.8 391.3 89.5 391.2 88.2 391.1 87.0 391.0 85.7 390.8 84.4 390.5 83.2 390.2 81.9 389.8 80.6 389.1 79.4 388.5 78.1 387.9 76.8 387.4 75.5 387.0 74.3 386.7 73.0 386.4 71.7 386.1 70.5 385.9 69.2 385.7 67.9 385.7 66.7 385.8 65.4 386.0 64.1 386.2 62.8 386.5 61.6 386.9 60.3 387.3 59.0 387.7 57.8 388.1 56.5 388.6 55.2 389.1 54.0 389.5 52.7 390.0 51.4 390.3 50.1 390.5 48.9 390.6 47.6 390.6 46.3 390.7 45.1 390.8 43.8 390.9 42.5 390.9 41.3 391.0 40.0 391.1 38.7 391.2 37.4 391.3 36.2 391.3 34.9 391.4 33.6 391.6 32.4 391.7 31.1Z" fill="#f9bd83" stroke="#3c3c3c" stroke-width="0.5"/>
<line x1="260.97" y1="81.1" x2="272.63" y2="81.1" stroke="#2a1d14" stroke-width="1.3"/>
<line x1="260.70" y1="79.0" x2="272.90" y2="79.0" stroke="#ee3a2a" stroke-width="1.5"/>
<line x1="281.74" y1="77.4" x2="293.66" y2="77.4" stroke="#2a1d14" stroke-width="1.3"/>
<line x1="281.61" y1="75.0" x2="293.79" y2="75.0" stroke="#ee3a2a" stroke-width="1.5"/>
<line x1="302.20" y1="85.1" x2="314.80" y2="85.1" stroke="#ee3a2a" stroke-width="1.5"/>
<line x1="323.10" y1="85.1" x2="335.50" y2="85.1" stroke="#ee3a2a" stroke-width="1.5"/>
<line x1="344.30" y1="77.3" x2="356.10" y2="77.3" stroke="#2a1d14" stroke-width="1.3"/>
<line x1="344.20" y1="75.0" x2="356.20" y2="75.0" stroke="#ee3a2a" stroke-width="1.5"/>
<line x1="364.90" y1="67.6" x2="377.10" y2="67.6" stroke="#2a1d14" stroke-width="1.3"/>
<line x1="364.90" y1="67.8" x2="377.10" y2="67.8" stroke="#ee3a2a" stroke-width="1.5"/>
<line x1="385.70" y1="67.4" x2="397.90" y2="67.4" stroke="#2a1d14" stroke-width="1.3"/>
<line x1="385.70" y1="67.6" x2="397.90" y2="67.6" stroke="#ee3a2a" stroke-width="1.5"/>
<text transform="translate(270.04,170.10) rotate(-30)" font-family='"Liberation Sans", sans-serif' font-size="7.5" text-anchor="end" fill="#111" stroke="#111" stroke-width="0.08">Corr</text>
<text transform="translate(290.88,170.10) rotate(-30)" font-family='"Liberation Sans", sans-serif' font-size="7.5" text-anchor="end" fill="#111" stroke="#111" stroke-width="0.08">Cov</text>
<text transform="translate(311.71,170.10) rotate(-30)" font-family='"Liberation Sans", sans-serif' font-size="7.5" text-anchor="end" fill="#111" stroke="#111" stroke-width="0.08">x<tspan font-size="5.6" dy="-1.0">*</tspan><tspan dy="1.0">w</tspan></text>
<text transform="translate(332.55,170.10) rotate(-30)" font-family='"Liberation Sans", sans-serif' font-size="7.5" text-anchor="end" fill="#111" stroke="#111" stroke-width="0.08">y<tspan font-size="5.6" dy="-1.0">*</tspan><tspan dy="1.0">w</tspan></text>
<text transform="translate(353.39,170.10) rotate(-30)" font-family='"Liberation Sans", sans-serif' font-size="7.5" text-anchor="end" fill="#111" stroke="#111" stroke-width="0.08">(xy)<tspan font-size="5.6" dy="-1.0">*</tspan><tspan dy="1.0">w</tspan></text>
<text transform="translate(375.22,171.10) rotate(-30)" font-family='"Liberation Sans", sans-serif' font-size="7.5" text-anchor="end" fill="#111" stroke="#111" stroke-width="0.08">(x<tspan dy="-3.1" font-size="6.6">2</tspan><tspan dy="3.1">)<tspan font-size="5.6" dy="-1.0">*</tspan><tspan dy="1.0">w</tspan></tspan></text>
<text transform="translate(396.06,171.10) rotate(-30)" font-family='"Liberation Sans", sans-serif' font-size="7.5" text-anchor="end" fill="#111" stroke="#111" stroke-width="0.08">(y<tspan dy="-3.1" font-size="6.6">2</tspan><tspan dy="3.1">)<tspan font-size="5.6" dy="-1.0">*</tspan><tspan dy="1.0">w</tspan></tspan></text>
<text x="548.15" y="7.3" font-family='"Liberation Sans", sans-serif' font-weight="bold" font-size="8.3" text-anchor="middle" fill="#000">Correlation with nuisance norm</text>
<text transform="translate(439.32,21.9) scale(0.83,1)" font-family='"Liberation Sans", sans-serif' font-size="14" fill="#000" stroke="#000" stroke-width="0.12">C</text>
<text transform="translate(445.90,84.50) rotate(-90)" font-family='"Liberation Sans", sans-serif' font-size="8.6" text-anchor="middle" fill="#1a1a1a">Correlation</text>
<text x="462.00" y="15.10" font-family='"Liberation Sans", sans-serif' font-size="7.2" text-anchor="end" fill="#111" stroke="#111" stroke-width="0.06">1</text>
<text x="462.00" y="51.35" font-family='"Liberation Sans", sans-serif' font-size="7.2" text-anchor="end" fill="#111" stroke="#111" stroke-width="0.06">0.5</text>
<text x="462.00" y="87.60" font-family='"Liberation Sans", sans-serif' font-size="7.2" text-anchor="end" fill="#111" stroke="#111" stroke-width="0.06">0</text>
<text x="462.00" y="123.85" font-family='"Liberation Sans", sans-serif' font-size="7.2" text-anchor="end" fill="#111" stroke="#111" stroke-width="0.06">-0.5</text>
<text x="462.00" y="160.10" font-family='"Liberation Sans", sans-serif' font-size="7.2" text-anchor="end" fill="#111" stroke="#111" stroke-width="0.06">-1</text>
<rect x="465" y="9.7" width="166.3" height="150.6" fill="none" stroke="#b6b6b6" stroke-width="1.2"/>
<line x1="488.7" y1="32" x2="488.7" y2="122.8" stroke="#7a7a7a" stroke-width="0.8"/>
<path d="M488.8 32.0 488.8 33.3 488.8 34.6 488.9 35.8 489.0 37.1 489.1 38.4 489.2 39.7 489.3 41.0 489.5 42.2 489.7 43.5 489.9 44.8 490.1 46.1 490.2 47.3 490.3 48.6 490.4 49.9 490.5 51.2 490.6 52.5 490.7 53.7 490.9 55.0 491.0 56.3 491.2 57.6 491.3 58.9 491.6 60.1 492.0 61.4 492.5 62.7 493.0 64.0 493.5 65.3 493.9 66.5 494.4 67.8 494.8 69.1 495.1 70.4 495.3 71.6 495.6 72.9 495.8 74.2 495.8 75.5 495.8 76.8 495.7 78.0 495.6 79.3 495.4 80.6 495.0 81.9 494.6 83.2 494.3 84.4 494.0 85.7 493.9 87.0 493.7 88.3 493.6 89.5 493.5 90.8 493.4 92.1 493.3 93.4 493.3 94.7 493.2 95.9 493.2 97.2 493.1 98.5 493.0 99.8 492.9 101.1 492.6 102.3 492.4 103.6 492.1 104.9 491.8 106.2 491.5 107.5 491.1 108.7 490.8 110.0 490.5 111.3 490.2 112.6 489.9 113.8 489.7 115.1 489.4 116.4 489.1 117.7 489.0 119.0 488.8 120.2 488.8 121.5 488.8 122.8 488.6 122.8 488.6 121.5 488.6 120.2 488.4 119.0 488.3 117.7 488.0 116.4 487.7 115.1 487.5 113.8 487.2 112.6 486.9 111.3 486.6 110.0 486.3 108.7 485.9 107.5 485.6 106.2 485.3 104.9 485.0 103.6 484.8 102.3 484.5 101.1 484.4 99.8 484.3 98.5 484.2 97.2 484.2 95.9 484.1 94.7 484.1 93.4 484.0 92.1 483.9 90.8 483.8 89.5 483.7 88.3 483.5 87.0 483.4 85.7 483.1 84.4 482.8 83.2 482.4 81.9 482.0 80.6 481.8 79.3 481.7 78.0 481.6 76.8 481.6 75.5 481.6 74.2 481.8 72.9 482.1 71.6 482.3 70.4 482.6 69.1 483.0 67.8 483.5 66.5 483.9 65.3 484.4 64.0 484.9 62.7 485.4 61.4 485.8 60.1 486.1 58.9 486.2 57.6 486.4 56.3 486.5 55.0 486.7 53.7 486.8 52.5 486.9 51.2 487.0 49.9 487.1 48.6 487.2 47.3 487.3 46.1 487.5 44.8 487.7 43.5 487.9 42.2 488.1 41.0 488.2 39.7 488.3 38.4 488.4 37.1 488.5 35.8 488.6 34.6 488.6 33.3 488.6 32.0Z" fill="#f9bd83" stroke="#3c3c3c" stroke-width="0.5"/>
<line x1="512.4" y1="22.5" x2="512.4" y2="137.3" stroke="#7a7a7a" stroke-width="0.8"/>
<path d="M512.5 22.5 512.5 23.8 512.6 25.1 512.6 26.3 512.7 27.6 512.8 28.9 512.9 30.2 513.0 31.4 513.2 32.7 513.3 34.0 513.4 35.3 513.5 36.5 513.7 37.8 513.8 39.1 514.0 40.4 514.1 41.6 514.3 42.9 514.4 44.2 514.6 45.5 514.7 46.7 514.9 48.0 515.0 49.3 515.2 50.6 515.3 51.8 515.5 53.1 515.7 54.4 515.8 55.7 516.0 56.9 516.3 58.2 516.5 59.5 516.7 60.8 517.0 62.0 517.2 63.3 517.4 64.6 517.7 65.9 517.9 67.1 518.2 68.4 518.4 69.7 518.6 71.0 518.8 72.2 519.0 73.5 519.2 74.8 519.3 76.1 519.3 77.3 519.4 78.6 519.5 79.9 519.5 81.2 519.5 82.5 519.4 83.7 519.3 85.0 519.2 86.3 519.0 87.6 518.9 88.8 518.8 90.1 518.7 91.4 518.6 92.7 518.5 93.9 518.4 95.2 518.3 96.5 518.1 97.8 517.9 99.0 517.7 100.3 517.4 101.6 517.1 102.9 516.7 104.1 516.3 105.4 516.1 106.7 515.8 108.0 515.6 109.2 515.3 110.5 515.1 111.8 514.8 113.1 514.6 114.3 514.3 115.6 514.1 116.9 514.0 118.2 513.8 119.4 513.6 120.7 513.4 122.0 513.2 123.3 513.1 124.5 513.0 125.8 512.9 127.1 512.8 128.4 512.7 129.6 512.7 130.9 512.6 132.2 512.5 133.5 512.5 134.7 512.5 136.0 512.5 137.3 512.3 137.3 512.3 136.0 512.3 134.7 512.3 133.5 512.2 132.2 512.1 130.9 512.1 129.6 512.0 128.4 511.9 127.1 511.8 125.8 511.7 124.5 511.6 123.3 511.4 122.0 511.2 120.7 511.0 119.4 510.8 118.2 510.7 116.9 510.5 115.6 510.2 114.3 510.0 113.1 509.7 111.8 509.5 110.5 509.2 109.2 509.0 108.0 508.7 106.7 508.5 105.4 508.1 104.1 507.7 102.9 507.4 101.6 507.1 100.3 506.9 99.0 506.7 97.8 506.5 96.5 506.4 95.2 506.3 93.9 506.2 92.7 506.1 91.4 506.0 90.1 505.9 88.8 505.8 87.6 505.6 86.3 505.5 85.0 505.4 83.7 505.3 82.5 505.3 81.2 505.3 79.9 505.4 78.6 505.5 77.3 505.5 76.1 505.6 74.8 505.8 73.5 506.0 72.2 506.2 71.0 506.4 69.7 506.6 68.4 506.9 67.1 507.1 65.9 507.4 64.6 507.6 63.3 507.8 62.0 508.1 60.8 508.3 59.5 508.5 58.2 508.8 56.9 509.0 55.7 509.1 54.4 509.3 53.1 509.5 51.8 509.6 50.6 509.8 49.3 509.9 48.0 510.1 46.7 510.2 45.5 510.4 44.2 510.5 42.9 510.7 41.6 510.8 40.4 511.0 39.1 511.1 37.8 511.3 36.5 511.4 35.3 511.5 34.0 511.6 32.7 511.8 31.4 511.9 30.2 512.0 28.9 512.1 27.6 512.2 26.3 512.2 25.1 512.3 23.8 512.3 22.5Z" fill="#f9bd83" stroke="#3c3c3c" stroke-width="0.5"/>
<line x1="536.1" y1="56.7" x2="536.1" y2="108.2" stroke="#7a7a7a" stroke-width="0.8"/>
<path d="M536.2 56.7 536.2 58.0 536.3 59.3 536.5 60.6 536.7 61.9 537.0 63.1 537.4 64.4 537.7 65.7 538.1 67.0 538.5 68.3 538.9 69.6 539.4 70.9 539.8 72.2 540.3 73.4 540.7 74.7 541.1 76.0 541.5 77.3 541.8 78.6 542.1 79.9 542.4 81.2 542.7 82.5 543.0 83.7 543.1 85.0 543.0 86.3 542.8 87.6 542.4 88.9 542.0 90.2 541.5 91.5 540.9 92.8 540.3 94.0 539.7 95.3 539.2 96.6 538.6 97.9 538.1 99.2 537.7 100.5 537.4 101.8 537.1 103.1 536.9 104.3 536.6 105.6 536.3 106.9 536.2 108.2 536.0 108.2 535.9 106.9 535.6 105.6 535.3 104.3 535.1 103.1 534.8 101.8 534.5 100.5 534.1 99.2 533.6 97.9 533.0 96.6 532.5 95.3 531.9 94.0 531.3 92.8 530.7 91.5 530.2 90.2 529.8 88.9 529.4 87.6 529.2 86.3 529.1 85.0 529.2 83.7 529.5 82.5 529.8 81.2 530.1 79.9 530.4 78.6 530.7 77.3 531.1 76.0 531.5 74.7 531.9 73.4 532.4 72.2 532.8 70.9 533.3 69.6 533.7 68.3 534.1 67.0 534.5 65.7 534.8 64.4 535.2 63.1 535.5 61.9 535.7 60.6 535.9 59.3 536.0 58.0 536.0 56.7Z" fill="#f9bd83" stroke="#3c3c3c" stroke-width="0.5"/>
<line x1="559.9" y1="17.6" x2="559.9" y2="142.2" stroke="#7a7a7a" stroke-width="0.8"/>
<path d="M560.0 17.6 560.0 18.9 560.0 20.1 560.1 21.4 560.1 22.7 560.2 24.0 560.3 25.2 560.3 26.5 560.4 27.8 560.4 29.0 560.5 30.3 560.6 31.6 560.6 32.9 560.7 34.1 560.8 35.4 560.9 36.7 561.0 37.9 561.1 39.2 561.3 40.5 561.4 41.8 561.6 43.0 561.7 44.3 562.0 45.6 562.2 46.8 562.4 48.1 562.7 49.4 562.9 50.7 563.2 51.9 563.5 53.2 563.8 54.5 564.0 55.7 564.3 57.0 564.5 58.3 564.7 59.6 564.9 60.8 565.2 62.1 565.4 63.4 565.6 64.6 565.8 65.9 566.1 67.2 566.3 68.5 566.5 69.7 566.7 71.0 566.8 72.3 566.8 73.5 566.9 74.8 566.9 76.1 566.9 77.4 567.0 78.6 567.0 79.9 567.0 81.2 567.0 82.4 567.0 83.7 566.9 85.0 566.8 86.3 566.8 87.5 566.6 88.8 566.3 90.1 566.0 91.3 565.8 92.6 565.5 93.9 565.3 95.2 565.0 96.4 564.8 97.7 564.5 99.0 564.3 100.2 564.1 101.5 563.9 102.8 563.7 104.1 563.5 105.3 563.3 106.6 563.0 107.9 562.8 109.1 562.6 110.4 562.4 111.7 562.2 113.0 562.0 114.2 561.8 115.5 561.6 116.8 561.3 118.0 561.1 119.3 560.9 120.6 560.8 121.9 560.6 123.1 560.5 124.4 560.4 125.7 560.4 126.9 560.3 128.2 560.2 129.5 560.2 130.8 560.1 132.0 560.1 133.3 560.0 134.6 560.0 135.8 560.0 137.1 560.0 138.4 560.0 139.7 560.0 140.9 560.0 142.2 559.8 142.2 559.8 140.9 559.8 139.7 559.8 138.4 559.8 137.1 559.8 135.8 559.8 134.6 559.7 133.3 559.7 132.0 559.6 130.8 559.6 129.5 559.5 128.2 559.4 126.9 559.4 125.7 559.3 124.4 559.2 123.1 559.0 121.9 558.9 120.6 558.7 119.3 558.5 118.0 558.2 116.8 558.0 115.5 557.8 114.2 557.6 113.0 557.4 111.7 557.2 110.4 557.0 109.1 556.8 107.9 556.5 106.6 556.3 105.3 556.1 104.1 555.9 102.8 555.7 101.5 555.5 100.2 555.3 99.0 555.0 97.7 554.8 96.4 554.5 95.2 554.3 93.9 554.0 92.6 553.8 91.3 553.5 90.1 553.2 88.8 553.0 87.5 553.0 86.3 552.9 85.0 552.8 83.7 552.8 82.4 552.8 81.2 552.8 79.9 552.8 78.6 552.9 77.4 552.9 76.1 552.9 74.8 553.0 73.5 553.0 72.3 553.1 71.0 553.3 69.7 553.5 68.5 553.7 67.2 554.0 65.9 554.2 64.6 554.4 63.4 554.6 62.1 554.9 60.8 555.1 59.6 555.3 58.3 555.5 57.0 555.8 55.7 556.0 54.5 556.3 53.2 556.6 51.9 556.9 50.7 557.1 49.4 557.4 48.1 557.6 46.8 557.8 45.6 558.1 44.3 558.2 43.0 558.4 41.8 558.5 40.5 558.7 39.2 558.8 37.9 558.9 36.7 559.0 35.4 559.1 34.1 559.2 32.9 559.2 31.6 559.3 30.3 559.4 29.0 559.4 27.8 559.5 26.5 559.5 25.2 559.6 24.0 559.7 22.7 559.7 21.4 559.8 20.1 559.8 18.9 559.8 17.6Z" fill="#f9bd83" stroke="#3c3c3c" stroke-width="0.5"/>
<line x1="583.6" y1="23.9" x2="583.6" y2="130.7" stroke="#7a7a7a" stroke-width="0.8"/>
<path d="M583.7 23.9 583.7 25.2 583.7 26.4 583.8 27.7 583.8 29.0 583.9 30.3 584.0 31.5 584.0 32.8 584.1 34.1 584.2 35.3 584.2 36.6 584.3 37.9 584.4 39.2 584.5 40.4 584.6 41.7 584.7 43.0 584.8 44.2 584.9 45.5 585.1 46.8 585.2 48.1 585.4 49.3 585.5 50.6 585.6 51.9 585.7 53.1 585.8 54.4 586.0 55.7 586.2 57.0 586.4 58.2 586.7 59.5 586.9 60.8 587.2 62.0 587.4 63.3 587.7 64.6 587.9 65.9 588.1 67.1 588.4 68.4 588.6 69.7 588.8 70.9 589.0 72.2 589.3 73.5 589.5 74.8 589.6 76.0 589.8 77.3 589.9 78.6 590.1 79.8 590.2 81.1 590.3 82.4 590.4 83.7 590.5 84.9 590.5 86.2 590.5 87.5 590.5 88.7 590.5 90.0 590.4 91.3 590.2 92.6 590.0 93.8 589.7 95.1 589.4 96.4 589.1 97.6 588.8 98.9 588.5 100.2 588.1 101.5 587.8 102.7 587.4 104.0 587.1 105.3 586.7 106.5 586.4 107.8 586.1 109.1 585.8 110.4 585.5 111.6 585.2 112.9 584.9 114.2 584.7 115.4 584.5 116.7 584.4 118.0 584.2 119.3 584.1 120.5 584.0 121.8 583.9 123.1 583.8 124.3 583.8 125.6 583.7 126.9 583.7 128.2 583.7 129.4 583.7 130.7 583.5 130.7 583.5 129.4 583.5 128.2 583.5 126.9 583.4 125.6 583.4 124.3 583.3 123.1 583.2 121.8 583.1 120.5 583.0 119.3 582.8 118.0 582.7 116.7 582.5 115.4 582.3 114.2 582.0 112.9 581.7 111.6 581.4 110.4 581.1 109.1 580.8 107.8 580.5 106.5 580.1 105.3 579.8 104.0 579.4 102.7 579.1 101.5 578.7 100.2 578.4 98.9 578.1 97.6 577.8 96.4 577.5 95.1 577.2 93.8 577.0 92.6 576.8 91.3 576.7 90.0 576.7 88.7 576.7 87.5 576.7 86.2 576.7 84.9 576.8 83.7 576.9 82.4 577.0 81.1 577.1 79.8 577.3 78.6 577.4 77.3 577.6 76.0 577.7 74.8 577.9 73.5 578.2 72.2 578.4 70.9 578.6 69.7 578.8 68.4 579.1 67.1 579.3 65.9 579.5 64.6 579.8 63.3 580.0 62.0 580.3 60.8 580.5 59.5 580.8 58.2 581.0 57.0 581.2 55.7 581.4 54.4 581.5 53.1 581.6 51.9 581.7 50.6 581.8 49.3 582.0 48.1 582.1 46.8 582.3 45.5 582.4 44.2 582.5 43.0 582.6 41.7 582.7 40.4 582.8 39.2 582.9 37.9 583.0 36.6 583.0 35.3 583.1 34.1 583.2 32.8 583.2 31.5 583.3 30.3 583.4 29.0 583.4 27.7 583.5 26.4 583.5 25.2 583.5 23.9Z" fill="#f9bd83" stroke="#3c3c3c" stroke-width="0.5"/>
<line x1="607.3" y1="18.2" x2="607.3" y2="145" stroke="#7a7a7a" stroke-width="0.8"/>
<path d="M607.4 18.2 607.4 19.5 607.4 20.7 607.4 22.0 607.5 23.3 607.6 24.5 607.6 25.8 607.7 27.1 607.8 28.3 607.9 29.6 607.9 30.9 608.0 32.1 608.1 33.4 608.2 34.7 608.4 36.0 608.5 37.2 608.6 38.5 608.8 39.8 609.0 41.0 609.1 42.3 609.3 43.6 609.4 44.8 609.6 46.1 609.7 47.4 609.9 48.6 610.1 49.9 610.3 51.2 610.5 52.4 610.8 53.7 611.1 55.0 611.3 56.2 611.6 57.5 611.8 58.8 612.1 60.0 612.3 61.3 612.6 62.6 612.8 63.8 613.0 65.1 613.2 66.4 613.4 67.7 613.6 68.9 613.7 70.2 613.9 71.5 614.0 72.7 614.1 74.0 614.1 75.3 614.1 76.5 614.1 77.8 614.1 79.1 614.1 80.3 614.1 81.6 614.1 82.9 614.1 84.1 614.0 85.4 614.0 86.7 613.9 87.9 613.8 89.2 613.6 90.5 613.4 91.7 613.3 93.0 613.1 94.3 612.9 95.5 612.7 96.8 612.5 98.1 612.2 99.4 612.0 100.6 611.7 101.9 611.5 103.2 611.2 104.4 611.0 105.7 610.8 107.0 610.5 108.2 610.3 109.5 610.1 110.8 609.9 112.0 609.7 113.3 609.5 114.6 609.3 115.8 609.2 117.1 609.0 118.4 608.8 119.6 608.7 120.9 608.5 122.2 608.4 123.4 608.3 124.7 608.1 126.0 608.0 127.2 607.9 128.5 607.8 129.8 607.7 131.1 607.7 132.3 607.6 133.6 607.6 134.9 607.5 136.1 607.5 137.4 607.4 138.7 607.4 139.9 607.4 141.2 607.4 142.5 607.4 143.7 607.4 145.0 607.2 145.0 607.2 143.7 607.2 142.5 607.2 141.2 607.2 139.9 607.2 138.7 607.1 137.4 607.1 136.1 607.0 134.9 607.0 133.6 606.9 132.3 606.9 131.1 606.8 129.8 606.7 128.5 606.6 127.2 606.5 126.0 606.3 124.7 606.2 123.4 606.1 122.2 605.9 120.9 605.8 119.6 605.6 118.4 605.4 117.1 605.3 115.8 605.1 114.6 604.9 113.3 604.7 112.0 604.5 110.8 604.3 109.5 604.1 108.2 603.8 107.0 603.6 105.7 603.4 104.4 603.1 103.2 602.9 101.9 602.6 100.6 602.4 99.4 602.1 98.1 601.9 96.8 601.7 95.5 601.5 94.3 601.3 93.0 601.2 91.7 601.0 90.5 600.8 89.2 600.7 87.9 600.6 86.7 600.6 85.4 600.5 84.1 600.5 82.9 600.5 81.6 600.5 80.3 600.5 79.1 600.5 77.8 600.5 76.5 600.5 75.3 600.5 74.0 600.6 72.7 600.7 71.5 600.9 70.2 601.0 68.9 601.2 67.7 601.4 66.4 601.6 65.1 601.8 63.8 602.0 62.6 602.3 61.3 602.5 60.0 602.8 58.8 603.0 57.5 603.3 56.2 603.5 55.0 603.8 53.7 604.1 52.4 604.3 51.2 604.5 49.9 604.7 48.6 604.9 47.4 605.0 46.1 605.2 44.8 605.3 43.6 605.5 42.3 605.6 41.0 605.8 39.8 606.0 38.5 606.1 37.2 606.2 36.0 606.4 34.7 606.5 33.4 606.6 32.1 606.7 30.9 606.7 29.6 606.8 28.3 606.9 27.1 607.0 25.8 607.0 24.5 607.1 23.3 607.2 22.0 607.2 20.7 607.2 19.5 607.2 18.2Z" fill="#f9bd83" stroke="#3c3c3c" stroke-width="0.5"/>
<line x1="482.20" y1="81.2" x2="495.20" y2="81.2" stroke="#2a1d14" stroke-width="1.3"/>
<line x1="481.81" y1="79.3" x2="495.59" y2="79.3" stroke="#ee3a2a" stroke-width="1.5"/>
<line x1="505.30" y1="82.3" x2="519.50" y2="82.3" stroke="#2a1d14" stroke-width="1.3"/>
<line x1="505.30" y1="82.3" x2="519.50" y2="82.3" stroke="#ee3a2a" stroke-width="1.5"/>
<line x1="529.11" y1="85.0" x2="543.09" y2="85.0" stroke="#2a1d14" stroke-width="1.3"/>
<line x1="529.10" y1="85.4" x2="543.10" y2="85.4" stroke="#ee3a2a" stroke-width="1.5"/>
<line x1="552.82" y1="83.3" x2="566.98" y2="83.3" stroke="#2a1d14" stroke-width="1.3"/>
<line x1="552.80" y1="81.4" x2="567.00" y2="81.4" stroke="#ee3a2a" stroke-width="1.5"/>
<line x1="576.81" y1="83.5" x2="590.39" y2="83.5" stroke="#2a1d14" stroke-width="1.3"/>
<line x1="576.70" y1="85.7" x2="590.50" y2="85.7" stroke="#ee3a2a" stroke-width="1.5"/>
<line x1="600.52" y1="83.8" x2="614.08" y2="83.8" stroke="#2a1d14" stroke-width="1.3"/>
<line x1="600.50" y1="81.5" x2="614.10" y2="81.5" stroke="#ee3a2a" stroke-width="1.5"/>
<text x="488.76" y="170.2" font-family='"Liberation Sans", sans-serif' font-size="7.1" text-anchor="middle" fill="#111" stroke="#111" stroke-width="0.12">P1</text>
<text x="512.51" y="170.2" font-family='"Liberation Sans", sans-serif' font-size="7.1" text-anchor="middle" fill="#111" stroke="#111" stroke-width="0.12">P2</text>
<text x="536.27" y="170.2" font-family='"Liberation Sans", sans-serif' font-size="7.1" text-anchor="middle" fill="#111" stroke="#111" stroke-width="0.12">P3</text>
<text x="560.03" y="170.2" font-family='"Liberation Sans", sans-serif' font-size="7.1" text-anchor="middle" fill="#111" stroke="#111" stroke-width="0.12">P4</text>
<text x="583.79" y="170.2" font-family='"Liberation Sans", sans-serif' font-size="7.1" text-anchor="middle" fill="#111" stroke="#111" stroke-width="0.12">P5</text>
<text x="607.54" y="170.2" font-family='"Liberation Sans", sans-serif' font-size="7.1" text-anchor="middle" fill="#111" stroke="#111" stroke-width="0.12">P6</text>
<text x="548.15" y="180.6" font-family='"Liberation Sans", sans-serif' font-size="8.2" text-anchor="middle" fill="#1a1a1a">Pipeline</text>
<text x="110.25" y="216.8" font-family='"Liberation Sans", sans-serif' font-weight="bold" font-size="8.3" text-anchor="middle" fill="#000">Correlation with nuisance correlation (Subject 2)</text>
<text transform="translate(0.13,233.8) scale(0.91,1)" font-family='"Liberation Sans", sans-serif' font-size="14" fill="#000" stroke="#000" stroke-width="0.12">D</text>
<text transform="translate(7.90,294.50) rotate(-90)" font-family='"Liberation Sans", sans-serif' font-size="8.6" text-anchor="middle" fill="#1a1a1a">Correlation</text>
<text x="24.00" y="225.10" font-family='"Liberation Sans", sans-serif' font-size="7.2" text-anchor="end" fill="#111" stroke="#111" stroke-width="0.06">1</text>
<text x="24.00" y="261.35" font-family='"Liberation Sans", sans-serif' font-size="7.2" text-anchor="end" fill="#111" stroke="#111" stroke-width="0.06">0.5</text>
<text x="24.00" y="297.60" font-family='"Liberation Sans", sans-serif' font-size="7.2" text-anchor="end" fill="#111" stroke="#111" stroke-width="0.06">0</text>
<text x="24.00" y="333.85" font-family='"Liberation Sans", sans-serif' font-size="7.2" text-anchor="end" fill="#111" stroke="#111" stroke-width="0.06">-0.5</text>
<text x="24.00" y="370.10" font-family='"Liberation Sans", sans-serif' font-size="7.2" text-anchor="end" fill="#111" stroke="#111" stroke-width="0.06">-1</text>
<rect x="27" y="219.7" width="166.5" height="150.6" fill="none" stroke="#b6b6b6" stroke-width="1.2"/>
<line x1="47.75" y1="219.7" x2="47.75" y2="363.7" stroke="#7a7a7a" stroke-width="0.8"/>
<path d="M47.9 219.7 47.9 221.0 47.9 222.2 47.9 223.5 47.9 224.8 48.0 226.0 48.0 227.3 48.1 228.5 48.1 229.8 48.2 231.1 48.4 232.3 48.6 233.6 48.9 234.9 49.2 236.1 49.5 237.4 49.8 238.6 50.1 239.9 50.4 241.2 50.7 242.4 50.9 243.7 51.2 245.0 51.5 246.2 51.7 247.5 51.9 248.8 52.2 250.0 52.4 251.3 52.6 252.5 52.8 253.8 53.0 255.1 53.2 256.3 53.3 257.6 53.4 258.9 53.5 260.1 53.6 261.4 53.7 262.6 53.8 263.9 53.8 265.2 53.9 266.4 53.9 267.7 53.9 269.0 53.9 270.2 53.9 271.5 53.9 272.8 53.9 274.0 53.9 275.3 53.9 276.5 53.8 277.8 53.7 279.1 53.5 280.3 53.4 281.6 53.3 282.9 53.1 284.1 52.9 285.4 52.7 286.6 52.5 287.9 52.4 289.2 52.2 290.4 52.0 291.7 51.8 293.0 51.7 294.2 51.5 295.5 51.3 296.8 51.2 298.0 51.0 299.3 50.8 300.5 50.7 301.8 50.5 303.1 50.4 304.3 50.2 305.6 50.1 306.9 50.0 308.1 49.8 309.4 49.7 310.6 49.6 311.9 49.4 313.2 49.3 314.4 49.2 315.7 49.1 317.0 49.0 318.2 48.9 319.5 48.8 320.8 48.7 322.0 48.6 323.3 48.5 324.5 48.5 325.8 48.4 327.1 48.3 328.3 48.3 329.6 48.3 330.9 48.2 332.1 48.2 333.4 48.2 334.6 48.1 335.9 48.1 337.2 48.1 338.4 48.1 339.7 48.0 341.0 48.0 342.2 48.0 343.5 48.0 344.8 47.9 346.0 47.9 347.3 47.9 348.5 47.9 349.8 47.9 351.1 47.9 352.3 47.9 353.6 47.9 354.9 47.9 356.1 47.9 357.4 47.9 358.6 47.9 359.9 47.9 361.2 47.9 362.4 47.9 363.7 47.6 363.7 47.6 362.4 47.6 361.2 47.6 359.9 47.6 358.6 47.6 357.4 47.6 356.1 47.6 354.9 47.6 353.6 47.6 352.3 47.6 351.1 47.6 349.8 47.6 348.5 47.6 347.3 47.6 346.0 47.5 344.8 47.5 343.5 47.5 342.2 47.5 341.0 47.4 339.7 47.4 338.4 47.4 337.2 47.4 335.9 47.3 334.6 47.3 333.4 47.3 332.1 47.2 330.9 47.2 329.6 47.2 328.3 47.1 327.1 47.0 325.8 47.0 324.5 46.9 323.3 46.8 322.0 46.7 320.8 46.6 319.5 46.5 318.2 46.4 317.0 46.3 315.7 46.2 314.4 46.1 313.2 45.9 311.9 45.8 310.6 45.7 309.4 45.5 308.1 45.4 306.9 45.3 305.6 45.1 304.3 45.0 303.1 44.8 301.8 44.7 300.5 44.5 299.3 44.3 298.0 44.2 296.8 44.0 295.5 43.8 294.2 43.7 293.0 43.5 291.7 43.3 290.4 43.1 289.2 43.0 287.9 42.8 286.6 42.6 285.4 42.4 284.1 42.2 282.9 42.1 281.6 42.0 280.3 41.8 279.1 41.7 277.8 41.6 276.5 41.6 275.3 41.6 274.0 41.6 272.8 41.6 271.5 41.6 270.2 41.6 269.0 41.6 267.7 41.6 266.4 41.7 265.2 41.7 263.9 41.8 262.6 41.9 261.4 42.0 260.1 42.1 258.9 42.2 257.6 42.3 256.3 42.5 255.1 42.7 253.8 42.9 252.5 43.1 251.3 43.3 250.0 43.6 248.8 43.8 247.5 44.0 246.2 44.3 245.0 44.6 243.7 44.8 242.4 45.1 241.2 45.4 239.9 45.7 238.6 46.0 237.4 46.3 236.1 46.6 234.9 46.9 233.6 47.1 232.3 47.3 231.1 47.4 229.8 47.4 228.5 47.5 227.3 47.5 226.0 47.6 224.8 47.6 223.5 47.6 222.2 47.6 221.0 47.6 219.7Z" fill="#f9bd83" stroke="#3c3c3c" stroke-width="0.5"/>
<line x1="68.5" y1="219.7" x2="68.5" y2="363.7" stroke="#7a7a7a" stroke-width="0.8"/>
<path d="M68.6 219.7 68.6 221.0 68.6 222.2 68.6 223.5 68.7 224.8 68.7 226.0 68.8 227.3 68.8 228.5 68.9 229.8 69.0 231.1 69.1 232.3 69.4 233.6 69.8 234.9 70.1 236.1 70.5 237.4 70.8 238.6 71.1 239.9 71.4 241.2 71.6 242.4 71.9 243.7 72.2 245.0 72.4 246.2 72.6 247.5 72.9 248.8 73.1 250.0 73.3 251.3 73.4 252.5 73.6 253.8 73.8 255.1 73.9 256.3 74.0 257.6 74.2 258.9 74.3 260.1 74.4 261.4 74.5 262.6 74.6 263.9 74.6 265.2 74.6 266.4 74.6 267.7 74.6 269.0 74.6 270.2 74.5 271.5 74.5 272.8 74.5 274.0 74.4 275.3 74.3 276.5 74.1 277.8 73.9 279.1 73.7 280.3 73.6 281.6 73.4 282.9 73.2 284.1 73.0 285.4 72.8 286.6 72.6 287.9 72.4 289.2 72.3 290.4 72.1 291.7 72.0 293.0 71.9 294.2 71.8 295.5 71.7 296.8 71.5 298.0 71.4 299.3 71.3 300.5 71.2 301.8 71.0 303.1 70.9 304.3 70.8 305.6 70.6 306.9 70.5 308.1 70.4 309.4 70.3 310.6 70.1 311.9 70.0 313.2 69.9 314.4 69.8 315.7 69.7 317.0 69.6 318.2 69.5 319.5 69.4 320.8 69.4 322.0 69.3 323.3 69.2 324.5 69.1 325.8 69.0 327.1 69.0 328.3 69.0 329.6 68.9 330.9 68.9 332.1 68.9 333.4 68.9 334.6 68.9 335.9 68.8 337.2 68.8 338.4 68.8 339.7 68.8 341.0 68.8 342.2 68.7 343.5 68.7 344.8 68.7 346.0 68.7 347.3 68.7 348.5 68.7 349.8 68.6 351.1 68.6 352.3 68.6 353.6 68.6 354.9 68.6 356.1 68.6 357.4 68.6 358.6 68.6 359.9 68.6 361.2 68.6 362.4 68.6 363.7 68.4 363.7 68.4 362.4 68.4 361.2 68.4 359.9 68.4 358.6 68.4 357.4 68.4 356.1 68.4 354.9 68.4 353.6 68.4 352.3 68.4 351.1 68.3 349.8 68.3 348.5 68.3 347.3 68.3 346.0 68.3 344.8 68.3 343.5 68.2 342.2 68.2 341.0 68.2 339.7 68.2 338.4 68.2 337.2 68.1 335.9 68.1 334.6 68.1 333.4 68.1 332.1 68.1 330.9 68.0 329.6 68.0 328.3 68.0 327.1 67.9 325.8 67.8 324.5 67.7 323.3 67.6 322.0 67.6 320.8 67.5 319.5 67.4 318.2 67.3 317.0 67.2 315.7 67.1 314.4 67.0 313.2 66.9 311.9 66.7 310.6 66.6 309.4 66.5 308.1 66.4 306.9 66.2 305.6 66.1 304.3 66.0 303.1 65.8 301.8 65.7 300.5 65.6 299.3 65.5 298.0 65.3 296.8 65.2 295.5 65.1 294.2 65.0 293.0 64.9 291.7 64.7 290.4 64.6 289.2 64.4 287.9 64.2 286.6 64.0 285.4 63.8 284.1 63.6 282.9 63.4 281.6 63.3 280.3 63.1 279.1 62.9 277.8 62.7 276.5 62.6 275.3 62.5 274.0 62.5 272.8 62.5 271.5 62.4 270.2 62.4 269.0 62.4 267.7 62.4 266.4 62.4 265.2 62.4 263.9 62.5 262.6 62.6 261.4 62.7 260.1 62.8 258.9 63.0 257.6 63.1 256.3 63.2 255.1 63.4 253.8 63.6 252.5 63.7 251.3 63.9 250.0 64.1 248.8 64.4 247.5 64.6 246.2 64.8 245.0 65.1 243.7 65.4 242.4 65.6 241.2 65.9 239.9 66.2 238.6 66.5 237.4 66.9 236.1 67.2 234.9 67.6 233.6 67.9 232.3 68.0 231.1 68.1 229.8 68.2 228.5 68.2 227.3 68.3 226.0 68.3 224.8 68.4 223.5 68.4 222.2 68.4 221.0 68.4 219.7Z" fill="#f9bd83" stroke="#3c3c3c" stroke-width="0.5"/>
<line x1="89.25" y1="249.6" x2="89.25" y2="335.9" stroke="#7a7a7a" stroke-width="0.8"/>
<path d="M89.3 249.6 89.3 250.9 89.3 252.1 89.3 253.4 89.4 254.7 89.4 255.9 89.4 257.2 89.5 258.5 89.5 259.8 89.6 261.0 89.6 262.3 89.7 263.6 89.8 264.8 90.0 266.1 90.3 267.4 90.5 268.6 90.8 269.9 91.1 271.2 91.5 272.4 91.8 273.7 92.1 275.0 92.3 276.3 92.6 277.5 92.8 278.8 93.1 280.1 93.3 281.3 93.6 282.6 93.8 283.9 94.1 285.1 94.4 286.4 94.7 287.7 95.0 288.9 95.3 290.2 95.5 291.5 95.5 292.8 95.5 294.0 95.2 295.3 94.9 296.6 94.5 297.8 94.2 299.1 93.9 300.4 93.6 301.6 93.4 302.9 93.1 304.2 92.9 305.4 92.6 306.7 92.4 308.0 92.1 309.2 91.9 310.5 91.6 311.8 91.4 313.1 91.1 314.3 90.9 315.6 90.6 316.9 90.4 318.1 90.3 319.4 90.1 320.7 89.9 321.9 89.8 323.2 89.7 324.5 89.6 325.7 89.5 327.0 89.5 328.3 89.4 329.6 89.4 330.8 89.3 332.1 89.3 333.4 89.3 334.6 89.3 335.9 89.2 335.9 89.2 334.6 89.2 333.4 89.2 332.1 89.1 330.8 89.1 329.6 89.0 328.3 89.0 327.0 88.9 325.7 88.8 324.5 88.7 323.2 88.6 321.9 88.4 320.7 88.2 319.4 88.1 318.1 87.9 316.9 87.6 315.6 87.4 314.3 87.1 313.1 86.9 311.8 86.6 310.5 86.4 309.2 86.1 308.0 85.9 306.7 85.6 305.4 85.4 304.2 85.1 302.9 84.9 301.6 84.6 300.4 84.3 299.1 84.0 297.8 83.6 296.6 83.3 295.3 83.0 294.0 83.0 292.8 83.0 291.5 83.2 290.2 83.5 288.9 83.8 287.7 84.1 286.4 84.4 285.1 84.7 283.9 84.9 282.6 85.2 281.3 85.4 280.1 85.7 278.8 85.9 277.5 86.2 276.3 86.4 275.0 86.7 273.7 87.0 272.4 87.4 271.2 87.7 269.9 88.0 268.6 88.2 267.4 88.5 266.1 88.7 264.8 88.8 263.6 88.9 262.3 88.9 261.0 89.0 259.8 89.0 258.5 89.1 257.2 89.1 255.9 89.1 254.7 89.2 253.4 89.2 252.1 89.2 250.9 89.2 249.6Z" fill="#f9bd83" stroke="#3c3c3c" stroke-width="0.5"/>
<line x1="110" y1="249.6" x2="110" y2="347.1" stroke="#7a7a7a" stroke-width="0.8"/>
<path d="M110.1 249.6 110.1 250.9 110.1 252.1 110.1 253.4 110.1 254.7 110.1 255.9 110.1 257.2 110.1 258.5 110.1 259.7 110.2 261.0 110.2 262.3 110.2 263.5 110.3 264.8 110.3 266.1 110.3 267.3 110.4 268.6 110.5 269.9 110.8 271.1 111.3 272.4 111.8 273.7 112.3 274.9 112.6 276.2 112.9 277.5 113.1 278.7 113.4 280.0 113.6 281.3 113.8 282.5 114.1 283.8 114.3 285.1 114.6 286.3 115.0 287.6 115.4 288.9 115.8 290.1 116.1 291.4 116.2 292.7 116.1 293.9 115.8 295.2 115.3 296.5 114.8 297.7 114.3 299.0 113.9 300.2 113.6 301.5 113.3 302.8 113.0 304.0 112.7 305.3 112.5 306.6 112.2 307.8 112.0 309.1 111.8 310.4 111.6 311.6 111.4 312.9 111.2 314.2 111.0 315.4 110.9 316.7 110.8 318.0 110.7 319.2 110.6 320.5 110.5 321.8 110.4 323.0 110.4 324.3 110.3 325.6 110.3 326.8 110.2 328.1 110.2 329.4 110.2 330.6 110.2 331.9 110.1 333.2 110.1 334.4 110.1 335.7 110.1 337.0 110.1 338.2 110.1 339.5 110.1 340.8 110.1 342.0 110.1 343.3 110.1 344.6 110.1 345.8 110.1 347.1 109.9 347.1 109.9 345.8 109.9 344.6 109.9 343.3 109.9 342.0 109.9 340.8 109.9 339.5 109.9 338.2 109.9 337.0 109.9 335.7 109.9 334.4 109.9 333.2 109.8 331.9 109.8 330.6 109.8 329.4 109.8 328.1 109.7 326.8 109.7 325.6 109.6 324.3 109.6 323.0 109.5 321.8 109.4 320.5 109.3 319.2 109.2 318.0 109.1 316.7 109.0 315.4 108.8 314.2 108.6 312.9 108.4 311.6 108.2 310.4 108.0 309.1 107.8 307.8 107.5 306.6 107.3 305.3 107.0 304.0 106.7 302.8 106.4 301.5 106.1 300.2 105.7 299.0 105.2 297.7 104.7 296.5 104.2 295.2 103.9 293.9 103.8 292.7 103.9 291.4 104.2 290.1 104.6 288.9 105.0 287.6 105.4 286.3 105.7 285.1 105.9 283.8 106.2 282.5 106.4 281.3 106.6 280.0 106.9 278.7 107.1 277.5 107.4 276.2 107.7 274.9 108.2 273.7 108.7 272.4 109.2 271.1 109.5 269.9 109.6 268.6 109.7 267.3 109.7 266.1 109.7 264.8 109.8 263.5 109.8 262.3 109.8 261.0 109.9 259.7 109.9 258.5 109.9 257.2 109.9 255.9 109.9 254.7 109.9 253.4 109.9 252.1 109.9 250.9 109.9 249.6Z" fill="#f9bd83" stroke="#3c3c3c" stroke-width="0.5"/>
<line x1="130.75" y1="219.7" x2="130.75" y2="363.5" stroke="#7a7a7a" stroke-width="0.8"/>
<path d="M130.8 219.7 130.8 221.0 130.8 222.2 130.9 223.5 130.9 224.7 130.9 226.0 131.0 227.3 131.0 228.5 131.1 229.8 131.1 231.1 131.2 232.3 131.3 233.6 131.5 234.8 131.7 236.1 132.1 237.4 132.4 238.6 132.8 239.9 133.1 241.1 133.4 242.4 133.6 243.7 133.9 244.9 134.1 246.2 134.4 247.5 134.6 248.7 134.9 250.0 135.1 251.2 135.3 252.5 135.5 253.8 135.8 255.0 136.0 256.3 136.2 257.5 136.3 258.8 136.4 260.1 136.5 261.3 136.6 262.6 136.7 263.8 136.8 265.1 136.8 266.4 136.8 267.6 136.8 268.9 136.8 270.2 136.8 271.4 136.8 272.7 136.8 273.9 136.8 275.2 136.7 276.5 136.6 277.7 136.5 279.0 136.2 280.2 136.0 281.5 135.8 282.8 135.6 284.0 135.3 285.3 135.0 286.6 134.7 287.8 134.5 289.1 134.3 290.3 134.2 291.6 134.0 292.9 133.9 294.1 133.8 295.4 133.7 296.6 133.6 297.9 133.4 299.2 133.3 300.4 133.2 301.7 133.1 303.0 133.0 304.2 132.9 305.5 132.8 306.7 132.7 308.0 132.6 309.3 132.4 310.5 132.3 311.8 132.2 313.0 132.1 314.3 132.0 315.6 131.8 316.8 131.7 318.1 131.6 319.4 131.5 320.6 131.5 321.9 131.4 323.1 131.3 324.4 131.2 325.7 131.2 326.9 131.1 328.2 131.1 329.4 131.0 330.7 131.0 332.0 131.0 333.2 131.0 334.5 131.0 335.7 130.9 337.0 130.9 338.3 130.9 339.5 130.9 340.8 130.9 342.1 130.9 343.3 130.8 344.6 130.8 345.8 130.8 347.1 130.8 348.4 130.8 349.6 130.8 350.9 130.8 352.1 130.8 353.4 130.8 354.7 130.8 355.9 130.8 357.2 130.8 358.5 130.8 359.7 130.8 361.0 130.8 362.2 130.8 363.5 130.7 363.5 130.7 362.2 130.7 361.0 130.7 359.7 130.7 358.5 130.7 357.2 130.7 355.9 130.7 354.7 130.7 353.4 130.7 352.1 130.7 350.9 130.7 349.6 130.7 348.4 130.7 347.1 130.7 345.8 130.7 344.6 130.6 343.3 130.6 342.1 130.6 340.8 130.6 339.5 130.6 338.3 130.6 337.0 130.5 335.7 130.5 334.5 130.5 333.2 130.5 332.0 130.5 330.7 130.4 329.4 130.4 328.2 130.3 326.9 130.3 325.7 130.2 324.4 130.1 323.1 130.0 321.9 130.0 320.6 129.9 319.4 129.8 318.1 129.7 316.8 129.5 315.6 129.4 314.3 129.3 313.0 129.2 311.8 129.1 310.5 128.9 309.3 128.8 308.0 128.7 306.7 128.6 305.5 128.5 304.2 128.4 303.0 128.3 301.7 128.2 300.4 128.1 299.2 127.9 297.9 127.8 296.6 127.7 295.4 127.6 294.1 127.5 292.9 127.3 291.6 127.2 290.3 127.0 289.1 126.8 287.8 126.5 286.6 126.2 285.3 125.9 284.0 125.7 282.8 125.5 281.5 125.3 280.2 125.0 279.0 124.9 277.7 124.8 276.5 124.7 275.2 124.7 273.9 124.7 272.7 124.7 271.4 124.7 270.2 124.7 268.9 124.7 267.6 124.7 266.4 124.7 265.1 124.8 263.8 124.9 262.6 125.0 261.3 125.1 260.1 125.2 258.8 125.3 257.5 125.5 256.3 125.7 255.0 126.0 253.8 126.2 252.5 126.4 251.2 126.6 250.0 126.9 248.7 127.1 247.5 127.4 246.2 127.6 244.9 127.9 243.7 128.1 242.4 128.4 241.1 128.7 239.9 129.1 238.6 129.4 237.4 129.8 236.1 130.0 234.8 130.2 233.6 130.3 232.3 130.4 231.1 130.4 229.8 130.5 228.5 130.5 227.3 130.6 226.0 130.6 224.7 130.6 223.5 130.7 222.2 130.7 221.0 130.7 219.7Z" fill="#f9bd83" stroke="#3c3c3c" stroke-width="0.5"/>
<line x1="151.5" y1="221.8" x2="151.5" y2="366.5" stroke="#7a7a7a" stroke-width="0.8"/>
<path d="M151.6 221.8 151.6 223.1 151.6 224.3 151.6 225.6 151.6 226.9 151.6 228.1 151.6 229.4 151.6 230.7 151.6 232.0 151.7 233.2 151.7 234.5 151.7 235.8 151.8 237.0 151.8 238.3 151.8 239.6 151.9 240.8 152.0 242.1 152.0 243.4 152.2 244.6 152.5 245.9 152.8 247.2 153.1 248.5 153.4 249.7 153.7 251.0 153.9 252.3 154.2 253.5 154.4 254.8 154.7 256.1 154.9 257.3 155.1 258.6 155.3 259.9 155.4 261.1 155.6 262.4 155.7 263.7 155.8 265.0 156.0 266.2 156.1 267.5 156.2 268.8 156.3 270.0 156.5 271.3 156.6 272.6 156.7 273.8 156.9 275.1 157.0 276.4 157.1 277.6 157.2 278.9 157.3 280.2 157.3 281.5 157.4 282.7 157.5 284.0 157.5 285.3 157.6 286.5 157.6 287.8 157.6 289.1 157.6 290.3 157.6 291.6 157.6 292.9 157.6 294.1 157.6 295.4 157.4 296.7 157.3 298.0 157.1 299.2 156.9 300.5 156.7 301.8 156.6 303.0 156.4 304.3 156.2 305.6 156.1 306.8 155.9 308.1 155.7 309.4 155.6 310.7 155.4 311.9 155.2 313.2 155.1 314.5 154.9 315.7 154.7 317.0 154.6 318.3 154.4 319.5 154.3 320.8 154.1 322.1 154.0 323.3 153.8 324.6 153.7 325.9 153.6 327.2 153.4 328.4 153.3 329.7 153.2 331.0 153.1 332.2 152.9 333.5 152.8 334.8 152.7 336.0 152.6 337.3 152.5 338.6 152.4 339.8 152.3 341.1 152.2 342.4 152.1 343.7 152.0 344.9 151.9 346.2 151.8 347.5 151.8 348.7 151.7 350.0 151.7 351.3 151.7 352.5 151.7 353.8 151.6 355.1 151.6 356.3 151.6 357.6 151.6 358.9 151.6 360.2 151.6 361.4 151.6 362.7 151.6 364.0 151.6 365.2 151.6 366.5 151.4 366.5 151.4 365.2 151.4 364.0 151.4 362.7 151.4 361.4 151.4 360.2 151.4 358.9 151.4 357.6 151.4 356.3 151.4 355.1 151.3 353.8 151.3 352.5 151.3 351.3 151.3 350.0 151.2 348.7 151.2 347.5 151.1 346.2 151.0 344.9 150.9 343.7 150.8 342.4 150.7 341.1 150.6 339.8 150.5 338.6 150.4 337.3 150.3 336.0 150.2 334.8 150.1 333.5 149.9 332.2 149.8 331.0 149.7 329.7 149.6 328.4 149.4 327.2 149.3 325.9 149.2 324.6 149.0 323.3 148.9 322.1 148.7 320.8 148.6 319.5 148.4 318.3 148.3 317.0 148.1 315.7 147.9 314.5 147.8 313.2 147.6 311.9 147.4 310.7 147.3 309.4 147.1 308.1 146.9 306.8 146.8 305.6 146.6 304.3 146.4 303.0 146.3 301.8 146.1 300.5 145.9 299.2 145.7 298.0 145.6 296.7 145.4 295.4 145.4 294.1 145.4 292.9 145.4 291.6 145.4 290.3 145.4 289.1 145.4 287.8 145.4 286.5 145.5 285.3 145.5 284.0 145.6 282.7 145.7 281.5 145.7 280.2 145.8 278.9 145.9 277.6 146.0 276.4 146.1 275.1 146.3 273.8 146.4 272.6 146.5 271.3 146.7 270.0 146.8 268.8 146.9 267.5 147.0 266.2 147.2 265.0 147.3 263.7 147.4 262.4 147.6 261.1 147.7 259.9 147.9 258.6 148.1 257.3 148.3 256.1 148.6 254.8 148.8 253.5 149.1 252.3 149.3 251.0 149.6 249.7 149.9 248.5 150.2 247.2 150.5 245.9 150.8 244.6 151.0 243.4 151.0 242.1 151.1 240.8 151.2 239.6 151.2 238.3 151.2 237.0 151.3 235.8 151.3 234.5 151.3 233.2 151.4 232.0 151.4 230.7 151.4 229.4 151.4 228.1 151.4 226.9 151.4 225.6 151.4 224.3 151.4 223.1 151.4 221.8Z" fill="#f9bd83" stroke="#3c3c3c" stroke-width="0.5"/>
<line x1="172.25" y1="223.7" x2="172.25" y2="369.6" stroke="#7a7a7a" stroke-width="0.8"/>
<path d="M172.3 223.7 172.3 225.0 172.3 226.2 172.3 227.5 172.3 228.8 172.4 230.0 172.4 231.3 172.4 232.6 172.5 233.8 172.5 235.1 172.6 236.4 172.6 237.7 172.6 238.9 172.7 240.2 172.8 241.5 172.9 242.7 173.2 244.0 173.5 245.3 173.8 246.5 174.1 247.8 174.4 249.1 174.6 250.3 174.8 251.6 175.0 252.9 175.2 254.1 175.4 255.4 175.6 256.7 175.8 258.0 175.9 259.2 176.1 260.5 176.3 261.8 176.5 263.0 176.7 264.3 176.8 265.6 177.0 266.8 177.2 268.1 177.3 269.4 177.4 270.6 177.6 271.9 177.7 273.2 177.8 274.4 177.9 275.7 178.0 277.0 178.1 278.3 178.2 279.5 178.2 280.8 178.3 282.1 178.3 283.3 178.4 284.6 178.4 285.9 178.4 287.1 178.4 288.4 178.4 289.7 178.4 290.9 178.4 292.2 178.4 293.5 178.3 294.7 178.2 296.0 178.1 297.3 178.0 298.6 177.8 299.8 177.7 301.1 177.5 302.4 177.4 303.6 177.2 304.9 177.1 306.2 177.0 307.4 176.8 308.7 176.7 310.0 176.6 311.2 176.4 312.5 176.2 313.8 176.1 315.0 175.9 316.3 175.7 317.6 175.6 318.9 175.4 320.1 175.3 321.4 175.1 322.7 175.0 323.9 174.8 325.2 174.7 326.5 174.6 327.7 174.4 329.0 174.3 330.3 174.2 331.5 174.0 332.8 173.9 334.1 173.8 335.3 173.7 336.6 173.5 337.9 173.4 339.2 173.3 340.4 173.2 341.7 173.1 343.0 173.0 344.2 172.8 345.5 172.7 346.8 172.6 348.0 172.6 349.3 172.5 350.6 172.5 351.8 172.5 353.1 172.4 354.4 172.4 355.6 172.4 356.9 172.4 358.2 172.3 359.5 172.3 360.7 172.3 362.0 172.3 363.3 172.3 364.5 172.3 365.8 172.3 367.1 172.3 368.3 172.3 369.6 172.2 369.6 172.2 368.3 172.2 367.1 172.2 365.8 172.2 364.5 172.2 363.3 172.2 362.0 172.2 360.7 172.2 359.5 172.1 358.2 172.1 356.9 172.1 355.6 172.1 354.4 172.0 353.1 172.0 351.8 172.0 350.6 171.9 349.3 171.9 348.0 171.8 346.8 171.7 345.5 171.5 344.2 171.4 343.0 171.3 341.7 171.2 340.4 171.1 339.2 171.0 337.9 170.8 336.6 170.7 335.3 170.6 334.1 170.5 332.8 170.3 331.5 170.2 330.3 170.1 329.0 169.9 327.7 169.8 326.5 169.7 325.2 169.5 323.9 169.4 322.7 169.2 321.4 169.1 320.1 168.9 318.9 168.8 317.6 168.6 316.3 168.4 315.0 168.3 313.8 168.1 312.5 167.9 311.2 167.8 310.0 167.7 308.7 167.5 307.4 167.4 306.2 167.3 304.9 167.1 303.6 167.0 302.4 166.8 301.1 166.7 299.8 166.5 298.6 166.4 297.3 166.3 296.0 166.2 294.7 166.1 293.5 166.1 292.2 166.1 290.9 166.1 289.7 166.1 288.4 166.1 287.1 166.1 285.9 166.1 284.6 166.2 283.3 166.2 282.1 166.3 280.8 166.3 279.5 166.4 278.3 166.5 277.0 166.6 275.7 166.7 274.4 166.8 273.2 166.9 271.9 167.1 270.6 167.2 269.4 167.3 268.1 167.5 266.8 167.7 265.6 167.8 264.3 168.0 263.0 168.2 261.8 168.4 260.5 168.6 259.2 168.7 258.0 168.9 256.7 169.1 255.4 169.3 254.1 169.5 252.9 169.7 251.6 169.9 250.3 170.1 249.1 170.4 247.8 170.7 246.5 171.0 245.3 171.3 244.0 171.6 242.7 171.7 241.5 171.8 240.2 171.9 238.9 171.9 237.7 171.9 236.4 172.0 235.1 172.0 233.8 172.1 232.6 172.1 231.3 172.1 230.0 172.2 228.8 172.2 227.5 172.2 226.2 172.2 225.0 172.2 223.7Z" fill="#f9bd83" stroke="#3c3c3c" stroke-width="0.5"/>
<line x1="41.59" y1="276.4" x2="53.91" y2="276.4" stroke="#2a1d14" stroke-width="1.3"/>
<line x1="41.55" y1="273.9" x2="53.95" y2="273.9" stroke="#ee3a2a" stroke-width="1.5"/>
<line x1="62.51" y1="274.2" x2="74.49" y2="274.2" stroke="#2a1d14" stroke-width="1.3"/>
<line x1="62.44" y1="271.0" x2="74.56" y2="271.0" stroke="#ee3a2a" stroke-width="1.5"/>
<line x1="83.09" y1="294.5" x2="95.41" y2="294.5" stroke="#ee3a2a" stroke-width="1.5"/>
<line x1="103.93" y1="294.2" x2="116.07" y2="294.2" stroke="#ee3a2a" stroke-width="1.5"/>
<line x1="124.71" y1="274.1" x2="136.79" y2="274.1" stroke="#2a1d14" stroke-width="1.3"/>
<line x1="124.66" y1="270.6" x2="136.84" y2="270.6" stroke="#ee3a2a" stroke-width="1.5"/>
<line x1="145.40" y1="292.0" x2="157.60" y2="292.0" stroke="#2a1d14" stroke-width="1.3"/>
<line x1="145.40" y1="290.9" x2="157.60" y2="290.9" stroke="#ee3a2a" stroke-width="1.5"/>
<line x1="166.10" y1="292.2" x2="178.40" y2="292.2" stroke="#2a1d14" stroke-width="1.3"/>
<line x1="166.07" y1="291.1" x2="178.43" y2="291.1" stroke="#ee3a2a" stroke-width="1.5"/>
<text transform="translate(51.01,379.40) rotate(-30)" font-family='"Liberation Sans", sans-serif' font-size="7.5" text-anchor="end" fill="#111" stroke="#111" stroke-width="0.08">Corr</text>
<text transform="translate(71.83,379.40) rotate(-30)" font-family='"Liberation Sans", sans-serif' font-size="7.5" text-anchor="end" fill="#111" stroke="#111" stroke-width="0.08">Cov</text>
<text transform="translate(92.64,379.40) rotate(-30)" font-family='"Liberation Sans", sans-serif' font-size="7.5" text-anchor="end" fill="#111" stroke="#111" stroke-width="0.08">x<tspan font-size="5.6" dy="-1.0">*</tspan><tspan dy="1.0">w</tspan></text>
<text transform="translate(113.45,379.40) rotate(-30)" font-family='"Liberation Sans", sans-serif' font-size="7.5" text-anchor="end" fill="#111" stroke="#111" stroke-width="0.08">y<tspan font-size="5.6" dy="-1.0">*</tspan><tspan dy="1.0">w</tspan></text>
<text transform="translate(134.26,379.40) rotate(-30)" font-family='"Liberation Sans", sans-serif' font-size="7.5" text-anchor="end" fill="#111" stroke="#111" stroke-width="0.08">(xy)<tspan font-size="5.6" dy="-1.0">*</tspan><tspan dy="1.0">w</tspan></text>
<text transform="translate(156.07,380.40) rotate(-30)" font-family='"Liberation Sans", sans-serif' font-size="7.5" text-anchor="end" fill="#111" stroke="#111" stroke-width="0.08">(x<tspan dy="-3.1" font-size="6.6">2</tspan><tspan dy="3.1">)<tspan font-size="5.6" dy="-1.0">*</tspan><tspan dy="1.0">w</tspan></tspan></text>
<text transform="translate(176.89,380.40) rotate(-30)" font-family='"Liberation Sans", sans-serif' font-size="7.5" text-anchor="end" fill="#111" stroke="#111" stroke-width="0.08">(y<tspan dy="-3.1" font-size="6.6">2</tspan><tspan dy="3.1">)<tspan font-size="5.6" dy="-1.0">*</tspan><tspan dy="1.0">w</tspan></tspan></text>
<text x="329.35" y="216.8" font-family='"Liberation Sans", sans-serif' font-weight="bold" font-size="8.3" text-anchor="middle" fill="#000">Correlation with nuisance correlation (All subjects)</text>
<text transform="translate(218.69,233.7) scale(0.72,1)" font-family='"Liberation Sans", sans-serif' font-size="14" fill="#000" stroke="#000" stroke-width="0.12">E</text>
<text transform="translate(226.90,294.50) rotate(-90)" font-family='"Liberation Sans", sans-serif' font-size="8.6" text-anchor="middle" fill="#1a1a1a">Correlation</text>
<text x="243.00" y="225.10" font-family='"Liberation Sans", sans-serif' font-size="7.2" text-anchor="end" fill="#111" stroke="#111" stroke-width="0.06">1</text>
<text x="243.00" y="261.35" font-family='"Liberation Sans", sans-serif' font-size="7.2" text-anchor="end" fill="#111" stroke="#111" stroke-width="0.06">0.5</text>
<text x="243.00" y="297.60" font-family='"Liberation Sans", sans-serif' font-size="7.2" text-anchor="end" fill="#111" stroke="#111" stroke-width="0.06">0</text>
<text x="243.00" y="333.85" font-family='"Liberation Sans", sans-serif' font-size="7.2" text-anchor="end" fill="#111" stroke="#111" stroke-width="0.06">-0.5</text>
<text x="243.00" y="370.10" font-family='"Liberation Sans", sans-serif' font-size="7.2" text-anchor="end" fill="#111" stroke="#111" stroke-width="0.06">-1</text>
<rect x="246" y="219.9" width="166.7" height="150.4" fill="none" stroke="#b6b6b6" stroke-width="1.2"/>
<line x1="266.8" y1="264.1" x2="266.8" y2="297.8" stroke="#7a7a7a" stroke-width="0.8"/>
<path d="M266.9 264.1 266.9 265.4 267.1 266.8 267.2 268.1 267.5 269.5 268.1 270.8 269.1 272.2 269.9 273.5 270.8 274.9 271.5 276.2 272.2 277.6 272.7 278.9 273.1 280.3 273.2 281.6 272.7 283.0 272.0 284.3 271.2 285.7 270.3 287.0 269.4 288.4 268.6 289.7 268.0 291.1 267.5 292.4 267.2 293.8 267.1 295.1 266.9 296.5 266.9 297.8 266.7 297.8 266.7 296.5 266.5 295.1 266.4 293.8 266.1 292.4 265.6 291.1 265.0 289.7 264.2 288.4 263.3 287.0 262.4 285.7 261.6 284.3 260.9 283.0 260.4 281.6 260.5 280.3 260.9 278.9 261.4 277.6 262.1 276.2 262.8 274.9 263.7 273.5 264.5 272.2 265.5 270.8 266.1 269.5 266.4 268.1 266.5 266.8 266.7 265.4 266.7 264.1Z" fill="#f9bd83" stroke="#3c3c3c" stroke-width="0.5"/>
<line x1="287.7" y1="262.1" x2="287.7" y2="294.7" stroke="#7a7a7a" stroke-width="0.8"/>
<path d="M287.8 262.1 287.8 263.4 288.0 264.7 288.3 266.0 288.7 267.3 289.4 268.6 290.1 269.9 290.9 271.2 291.7 272.5 292.4 273.8 293.0 275.1 293.5 276.4 294.0 277.7 294.2 279.1 293.9 280.4 293.2 281.7 292.6 283.0 291.9 284.3 291.1 285.6 290.4 286.9 289.6 288.2 288.9 289.5 288.4 290.8 288.1 292.1 287.9 293.4 287.8 294.7 287.6 294.7 287.5 293.4 287.3 292.1 287.0 290.8 286.5 289.5 285.8 288.2 285.0 286.9 284.3 285.6 283.5 284.3 282.8 283.0 282.2 281.7 281.5 280.4 281.2 279.1 281.4 277.7 281.9 276.4 282.4 275.1 283.0 273.8 283.7 272.5 284.5 271.2 285.3 269.9 286.0 268.6 286.7 267.3 287.1 266.0 287.4 264.7 287.6 263.4 287.6 262.1Z" fill="#f9bd83" stroke="#3c3c3c" stroke-width="0.5"/>
<path d="M308.6 293.9 309.0 294.3 309.3 294.8 309.3 295.2 309.0 295.7 308.6 296.1 308.4 296.1 308.0 295.7 307.7 295.2 307.7 294.8 308.0 294.3 308.4 293.9Z" fill="#f9bd83" stroke="#3c3c3c" stroke-width="0.5"/>
<path d="M329.4 293.9 329.8 294.3 330.1 294.8 330.1 295.2 329.8 295.7 329.4 296.1 329.2 296.1 328.8 295.7 328.5 295.2 328.5 294.8 328.8 294.3 329.2 293.9Z" fill="#f9bd83" stroke="#3c3c3c" stroke-width="0.5"/>
<line x1="350.2" y1="262.1" x2="350.2" y2="294.7" stroke="#7a7a7a" stroke-width="0.8"/>
<path d="M350.3 262.1 350.3 263.4 350.5 264.7 350.6 266.0 350.7 267.3 351.2 268.6 352.0 269.9 352.8 271.2 353.6 272.5 354.3 273.8 355.0 275.1 355.6 276.4 356.1 277.7 356.3 279.1 355.9 280.4 355.0 281.7 354.2 283.0 353.3 284.3 352.5 285.6 351.8 286.9 351.2 288.2 350.8 289.5 350.5 290.8 350.4 292.1 350.3 293.4 350.3 294.7 350.1 294.7 350.1 293.4 350.0 292.1 349.9 290.8 349.6 289.5 349.2 288.2 348.6 286.9 347.9 285.6 347.1 284.3 346.2 283.0 345.4 281.7 344.5 280.4 344.1 279.1 344.3 277.7 344.8 276.4 345.4 275.1 346.1 273.8 346.8 272.5 347.6 271.2 348.4 269.9 349.2 268.6 349.7 267.3 349.8 266.0 349.9 264.7 350.1 263.4 350.1 262.1Z" fill="#f9bd83" stroke="#3c3c3c" stroke-width="0.5"/>
<line x1="371" y1="273.4" x2="371" y2="303.4" stroke="#7a7a7a" stroke-width="0.8"/>
<path d="M371.1 273.4 371.2 274.7 371.4 276.0 371.8 277.3 372.1 278.6 372.4 279.9 372.8 281.2 373.2 282.5 373.7 283.8 374.2 285.1 374.9 286.4 375.6 287.7 376.2 289.1 376.8 290.4 377.0 291.7 377.1 293.0 376.7 294.3 375.8 295.6 374.9 296.9 373.7 298.2 372.8 299.5 372.0 300.8 371.4 302.1 371.1 303.4 370.9 303.4 370.6 302.1 370.0 300.8 369.2 299.5 368.3 298.2 367.1 296.9 366.2 295.6 365.3 294.3 364.9 293.0 365.0 291.7 365.2 290.4 365.8 289.1 366.4 287.7 367.1 286.4 367.8 285.1 368.3 283.8 368.8 282.5 369.2 281.2 369.6 279.9 369.9 278.6 370.2 277.3 370.6 276.0 370.8 274.7 370.9 273.4Z" fill="#f9bd83" stroke="#3c3c3c" stroke-width="0.5"/>
<line x1="391.8" y1="273.4" x2="391.8" y2="303.4" stroke="#7a7a7a" stroke-width="0.8"/>
<path d="M391.9 273.4 392.0 274.7 392.2 276.0 392.6 277.3 392.9 278.6 393.1 279.9 393.4 281.2 393.8 282.5 394.2 283.8 394.7 285.1 395.4 286.4 396.1 287.7 396.7 289.1 397.4 290.4 397.8 291.7 398.0 293.0 397.8 294.3 396.9 295.6 395.8 296.9 394.4 298.2 393.4 299.5 392.7 300.8 392.1 302.1 391.9 303.4 391.7 303.4 391.5 302.1 390.9 300.8 390.2 299.5 389.2 298.2 387.8 296.9 386.7 295.6 385.8 294.3 385.6 293.0 385.8 291.7 386.2 290.4 386.9 289.1 387.5 287.7 388.2 286.4 388.9 285.1 389.4 283.8 389.8 282.5 390.2 281.2 390.5 279.9 390.7 278.6 391.0 277.3 391.4 276.0 391.6 274.7 391.7 273.4Z" fill="#f9bd83" stroke="#3c3c3c" stroke-width="0.5"/>
<line x1="260.41" y1="281.2" x2="273.19" y2="281.2" stroke="#2a1d14" stroke-width="1.3"/>
<line x1="260.41" y1="281.6" x2="273.19" y2="281.6" stroke="#ee3a2a" stroke-width="1.5"/>
<line x1="281.20" y1="278.9" x2="294.20" y2="278.9" stroke="#2a1d14" stroke-width="1.3"/>
<line x1="281.27" y1="279.6" x2="294.13" y2="279.6" stroke="#ee3a2a" stroke-width="1.5"/>
<line x1="302.70" y1="295.0" x2="314.30" y2="295.0" stroke="#ee3a2a" stroke-width="1.5"/>
<line x1="323.10" y1="295.0" x2="335.50" y2="295.0" stroke="#ee3a2a" stroke-width="1.5"/>
<line x1="344.16" y1="278.4" x2="356.24" y2="278.4" stroke="#2a1d14" stroke-width="1.3"/>
<line x1="344.14" y1="279.4" x2="356.26" y2="279.4" stroke="#ee3a2a" stroke-width="1.5"/>
<line x1="365.14" y1="290.6" x2="376.86" y2="290.6" stroke="#2a1d14" stroke-width="1.3"/>
<line x1="364.94" y1="292.1" x2="377.06" y2="292.1" stroke="#ee3a2a" stroke-width="1.5"/>
<line x1="385.95" y1="291.1" x2="397.65" y2="291.1" stroke="#2a1d14" stroke-width="1.3"/>
<line x1="385.74" y1="292.1" x2="397.86" y2="292.1" stroke="#ee3a2a" stroke-width="1.5"/>
<text transform="translate(270.04,379.40) rotate(-30)" font-family='"Liberation Sans", sans-serif' font-size="7.5" text-anchor="end" fill="#111" stroke="#111" stroke-width="0.08">Corr</text>
<text transform="translate(290.88,379.40) rotate(-30)" font-family='"Liberation Sans", sans-serif' font-size="7.5" text-anchor="end" fill="#111" stroke="#111" stroke-width="0.08">Cov</text>
<text transform="translate(311.71,379.40) rotate(-30)" font-family='"Liberation Sans", sans-serif' font-size="7.5" text-anchor="end" fill="#111" stroke="#111" stroke-width="0.08">x<tspan font-size="5.6" dy="-1.0">*</tspan><tspan dy="1.0">w</tspan></text>
<text transform="translate(332.55,379.40) rotate(-30)" font-family='"Liberation Sans", sans-serif' font-size="7.5" text-anchor="end" fill="#111" stroke="#111" stroke-width="0.08">y<tspan font-size="5.6" dy="-1.0">*</tspan><tspan dy="1.0">w</tspan></text>
<text transform="translate(353.39,379.40) rotate(-30)" font-family='"Liberation Sans", sans-serif' font-size="7.5" text-anchor="end" fill="#111" stroke="#111" stroke-width="0.08">(xy)<tspan font-size="5.6" dy="-1.0">*</tspan><tspan dy="1.0">w</tspan></text>
<text transform="translate(375.22,380.40) rotate(-30)" font-family='"Liberation Sans", sans-serif' font-size="7.5" text-anchor="end" fill="#111" stroke="#111" stroke-width="0.08">(x<tspan dy="-3.1" font-size="6.6">2</tspan><tspan dy="3.1">)<tspan font-size="5.6" dy="-1.0">*</tspan><tspan dy="1.0">w</tspan></tspan></text>
<text transform="translate(396.06,380.40) rotate(-30)" font-family='"Liberation Sans", sans-serif' font-size="7.5" text-anchor="end" fill="#111" stroke="#111" stroke-width="0.08">(y<tspan dy="-3.1" font-size="6.6">2</tspan><tspan dy="3.1">)<tspan font-size="5.6" dy="-1.0">*</tspan><tspan dy="1.0">w</tspan></tspan></text>
<text x="548.15" y="216.8" font-family='"Liberation Sans", sans-serif' font-weight="bold" font-size="8.3" text-anchor="middle" fill="#000">Correlation with nuisance correlation</text>
<text transform="translate(439.74,233.8) scale(0.77,1)" font-family='"Liberation Sans", sans-serif' font-size="14" fill="#000" stroke="#000" stroke-width="0.12">F</text>
<text transform="translate(445.90,294.50) rotate(-90)" font-family='"Liberation Sans", sans-serif' font-size="8.6" text-anchor="middle" fill="#1a1a1a">Correlation</text>
<text x="462.00" y="225.10" font-family='"Liberation Sans", sans-serif' font-size="7.2" text-anchor="end" fill="#111" stroke="#111" stroke-width="0.06">1</text>
<text x="462.00" y="261.35" font-family='"Liberation Sans", sans-serif' font-size="7.2" text-anchor="end" fill="#111" stroke="#111" stroke-width="0.06">0.5</text>
<text x="462.00" y="297.60" font-family='"Liberation Sans", sans-serif' font-size="7.2" text-anchor="end" fill="#111" stroke="#111" stroke-width="0.06">0</text>
<text x="462.00" y="333.85" font-family='"Liberation Sans", sans-serif' font-size="7.2" text-anchor="end" fill="#111" stroke="#111" stroke-width="0.06">-0.5</text>
<text x="462.00" y="370.10" font-family='"Liberation Sans", sans-serif' font-size="7.2" text-anchor="end" fill="#111" stroke="#111" stroke-width="0.06">-1</text>
<rect x="465" y="219.5" width="166.3" height="150.8" fill="none" stroke="#b6b6b6" stroke-width="1.2"/>
<line x1="488.7" y1="264.6" x2="488.7" y2="297.1" stroke="#7a7a7a" stroke-width="0.8"/>
<path d="M488.8 264.6 488.9 265.9 489.1 267.2 489.5 268.5 490.0 269.8 490.9 271.1 491.8 272.4 492.6 273.7 493.4 275.0 494.1 276.3 494.7 277.6 495.3 278.9 495.8 280.2 495.9 281.5 495.4 282.8 494.7 284.1 494.0 285.4 493.0 286.7 491.9 288.0 491.0 289.3 490.4 290.6 489.9 291.9 489.4 293.2 489.0 294.5 488.8 295.8 488.8 297.1 488.6 297.1 488.6 295.8 488.4 294.5 488.0 293.2 487.5 291.9 487.0 290.6 486.4 289.3 485.5 288.0 484.4 286.7 483.4 285.4 482.7 284.1 482.0 282.8 481.5 281.5 481.6 280.2 482.1 278.9 482.7 277.6 483.3 276.3 484.0 275.0 484.8 273.7 485.6 272.4 486.5 271.1 487.4 269.8 487.9 268.5 488.3 267.2 488.5 265.9 488.6 264.6Z" fill="#f9bd83" stroke="#3c3c3c" stroke-width="0.5"/>
<line x1="512.4" y1="277.9" x2="512.4" y2="308.4" stroke="#7a7a7a" stroke-width="0.8"/>
<path d="M512.5 277.9 512.6 279.2 513.0 280.6 513.9 281.9 514.7 283.2 515.7 284.5 516.6 285.9 517.6 287.2 518.5 288.5 519.0 289.8 519.4 291.2 519.6 292.5 519.3 293.8 518.6 295.1 517.8 296.5 516.9 297.8 515.8 299.1 514.9 300.4 514.2 301.8 513.6 303.1 513.0 304.4 512.7 305.7 512.5 307.1 512.5 308.4 512.3 308.4 512.3 307.1 512.1 305.7 511.8 304.4 511.2 303.1 510.6 301.8 509.9 300.4 509.0 299.1 507.9 297.8 507.0 296.5 506.2 295.1 505.5 293.8 505.2 292.5 505.4 291.2 505.8 289.8 506.3 288.5 507.2 287.2 508.2 285.9 509.1 284.5 510.1 283.2 510.9 281.9 511.8 280.6 512.2 279.2 512.3 277.9Z" fill="#f9bd83" stroke="#3c3c3c" stroke-width="0.5"/>
<line x1="559.9" y1="276.3" x2="559.9" y2="309.1" stroke="#7a7a7a" stroke-width="0.8"/>
<path d="M560.0 276.3 560.0 277.6 560.2 278.9 560.4 280.2 560.7 281.5 561.3 282.9 562.3 284.2 563.3 285.5 564.3 286.8 565.1 288.1 565.6 289.4 566.0 290.7 566.4 292.0 566.7 293.4 566.9 294.7 566.5 296.0 565.8 297.3 565.0 298.6 564.1 299.9 563.2 301.2 562.2 302.5 561.4 303.9 560.6 305.2 560.2 306.5 560.0 307.8 560.0 309.1 559.8 309.1 559.8 307.8 559.6 306.5 559.2 305.2 558.4 303.9 557.6 302.5 556.6 301.2 555.7 299.9 554.8 298.6 554.0 297.3 553.3 296.0 552.9 294.7 553.1 293.4 553.4 292.0 553.8 290.7 554.2 289.4 554.7 288.1 555.5 286.8 556.5 285.5 557.5 284.2 558.5 282.9 559.1 281.5 559.4 280.2 559.6 278.9 559.8 277.6 559.8 276.3Z" fill="#f9bd83" stroke="#3c3c3c" stroke-width="0.5"/>
<line x1="583.6" y1="279" x2="583.6" y2="308.6" stroke="#7a7a7a" stroke-width="0.8"/>
<path d="M583.7 279.0 583.9 280.3 584.5 281.7 585.7 283.0 586.9 284.4 588.1 285.7 589.0 287.1 589.8 288.4 590.2 289.8 590.5 291.1 590.6 292.5 590.4 293.8 589.9 295.1 589.2 296.5 588.5 297.8 587.5 299.2 586.6 300.5 585.8 301.9 585.1 303.2 584.4 304.6 583.9 305.9 583.7 307.3 583.7 308.6 583.5 308.6 583.5 307.3 583.3 305.9 582.8 304.6 582.1 303.2 581.4 301.9 580.6 300.5 579.7 299.2 578.7 297.8 578.0 296.5 577.3 295.1 576.8 293.8 576.6 292.5 576.7 291.1 577.0 289.8 577.4 288.4 578.2 287.1 579.1 285.7 580.3 284.4 581.5 283.0 582.7 281.7 583.3 280.3 583.5 279.0Z" fill="#f9bd83" stroke="#3c3c3c" stroke-width="0.5"/>
<line x1="607.3" y1="276.8" x2="607.3" y2="309.7" stroke="#7a7a7a" stroke-width="0.8"/>
<path d="M607.4 276.8 607.5 278.1 607.8 279.4 608.3 280.7 609.1 282.1 610.1 283.4 611.1 284.7 611.9 286.0 612.6 287.3 613.3 288.6 613.7 290.0 614.0 291.3 614.2 292.6 614.4 293.9 614.3 295.2 613.9 296.5 613.3 297.9 612.5 299.2 611.6 300.5 610.5 301.8 609.6 303.1 608.9 304.4 608.2 305.8 607.7 307.1 607.4 308.4 607.4 309.7 607.2 309.7 607.2 308.4 606.9 307.1 606.4 305.8 605.7 304.4 605.0 303.1 604.1 301.8 603.0 300.5 602.1 299.2 601.3 297.9 600.7 296.5 600.3 295.2 600.2 293.9 600.4 292.6 600.6 291.3 600.9 290.0 601.3 288.6 602.0 287.3 602.7 286.0 603.5 284.7 604.5 283.4 605.5 282.1 606.3 280.7 606.8 279.4 607.1 278.1 607.2 276.8Z" fill="#f9bd83" stroke="#3c3c3c" stroke-width="0.5"/>
<line x1="481.50" y1="281.0" x2="495.90" y2="281.0" stroke="#2a1d14" stroke-width="1.3"/>
<line x1="481.53" y1="281.4" x2="495.87" y2="281.4" stroke="#ee3a2a" stroke-width="1.5"/>
<line x1="505.21" y1="292.2" x2="519.59" y2="292.2" stroke="#2a1d14" stroke-width="1.3"/>
<line x1="505.41" y1="293.6" x2="519.39" y2="293.6" stroke="#ee3a2a" stroke-width="1.5"/>
<line x1="529.00" y1="222.4" x2="543.20" y2="222.4" stroke="#ee3a2a" stroke-width="1.5"/>
<line x1="552.99" y1="293.7" x2="566.81" y2="293.7" stroke="#2a1d14" stroke-width="1.3"/>
<line x1="552.91" y1="294.8" x2="566.89" y2="294.8" stroke="#ee3a2a" stroke-width="1.5"/>
<line x1="576.60" y1="292.5" x2="590.60" y2="292.5" stroke="#2a1d14" stroke-width="1.3"/>
<line x1="576.60" y1="292.5" x2="590.60" y2="292.5" stroke="#ee3a2a" stroke-width="1.5"/>
<line x1="600.21" y1="294.1" x2="614.39" y2="294.1" stroke="#2a1d14" stroke-width="1.3"/>
<line x1="600.21" y1="294.9" x2="614.39" y2="294.9" stroke="#ee3a2a" stroke-width="1.5"/>
<text x="488.76" y="380.4" font-family='"Liberation Sans", sans-serif' font-size="7.1" text-anchor="middle" fill="#111" stroke="#111" stroke-width="0.12">P1</text>
<text x="512.51" y="380.4" font-family='"Liberation Sans", sans-serif' font-size="7.1" text-anchor="middle" fill="#111" stroke="#111" stroke-width="0.12">P2</text>
<text x="536.27" y="380.4" font-family='"Liberation Sans", sans-serif' font-size="7.1" text-anchor="middle" fill="#111" stroke="#111" stroke-width="0.12">P3</text>
<text x="560.03" y="380.4" font-family='"Liberation Sans", sans-serif' font-size="7.1" text-anchor="middle" fill="#111" stroke="#111" stroke-width="0.12">P4</text>
<text x="583.79" y="380.4" font-family='"Liberation Sans", sans-serif' font-size="7.1" text-anchor="middle" fill="#111" stroke="#111" stroke-width="0.12">P5</text>
<text x="607.54" y="380.4" font-family='"Liberation Sans", sans-serif' font-size="7.1" text-anchor="middle" fill="#111" stroke="#111" stroke-width="0.12">P6</text>
<text x="548.15" y="390.8" font-family='"Liberation Sans", sans-serif' font-size="8.2" text-anchor="middle" fill="#1a1a1a">Pipeline</text>
<line x1="588.2" y1="228.0" x2="602.4" y2="228.0" stroke="#5a5a5a" stroke-width="1.4"/>
<line x1="588.2" y1="235.7" x2="602.4" y2="235.7" stroke="#f05a5a" stroke-width="1.4"/>
<text x="603.8" y="231.1" font-family='"Liberation Sans", sans-serif' font-size="6.8" fill="#111" stroke="#111" stroke-width="0.1">Mean</text>
<text x="603.8" y="238.8" font-family='"Liberation Sans", sans-serif' font-size="6.8" fill="#111" stroke="#111" stroke-width="0.1">Median</text>
</svg>
</body></html>
